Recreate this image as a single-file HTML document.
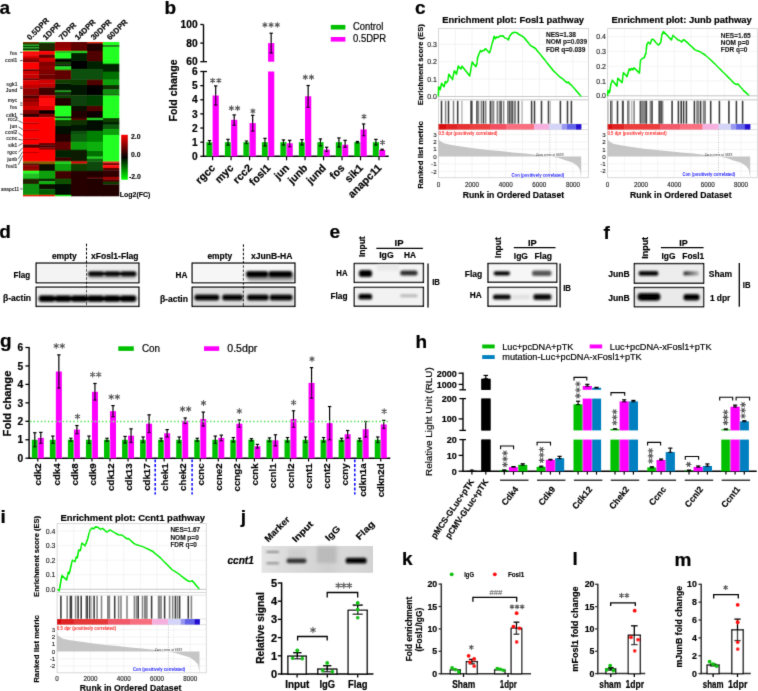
<!DOCTYPE html>
<html><head><meta charset="utf-8"><style>
html,body{margin:0;padding:0;background:#fff;}
svg{display:block;}
#w{width:758px;height:691px;will-change:transform;}
text{font-family:"Liberation Sans",sans-serif;}
</style></head><body><div id="w">
<svg width="758" height="691" viewBox="0 0 758 691">
<defs>
<filter id="bl" x="-20%" y="-50%" width="140%" height="200%"><feGaussianBlur stdDeviation="0.9"/></filter>
<filter id="bl2" x="-20%" y="-50%" width="140%" height="200%"><feGaussianBlur stdDeviation="1.4"/></filter>
<linearGradient id="cbar" x1="0" y1="0" x2="0" y2="1">
<stop offset="0" stop-color="#ff0000"/><stop offset="0.5" stop-color="#000000"/><stop offset="1" stop-color="#00ff00"/>
</linearGradient>
</defs>
<filter id="soft" filterUnits="userSpaceOnUse" x="0" y="0" width="758" height="691"><feConvolveMatrix order="3" kernelMatrix="0.01134 0.08382 0.01134 0.08382 0.61935 0.08382 0.01134 0.08382 0.01134" divisor="1" edgeMode="none"/></filter>
<rect x="0" y="0" width="758" height="691" fill="#fff"/>
<g filter="url(#soft)">
<text x="-0.5" y="13.8" font-size="19" font-weight="bold" text-anchor="start" fill="#000" stroke="#000" stroke-width="0.22" >a</text>
<text x="164.5" y="14" font-size="19" font-weight="bold" text-anchor="start" fill="#000" stroke="#000" stroke-width="0.22" >b</text>
<text x="415.1" y="14.1" font-size="19" font-weight="bold" text-anchor="start" fill="#000" stroke="#000" stroke-width="0.22" >c</text>
<text x="-0.8" y="237.8" font-size="19" font-weight="bold" text-anchor="start" fill="#000" stroke="#000" stroke-width="0.22" >d</text>
<text x="329.5" y="238.2" font-size="19" font-weight="bold" text-anchor="start" fill="#000" stroke="#000" stroke-width="0.22" >e</text>
<text x="603.5" y="238.7" font-size="19" font-weight="bold" text-anchor="start" fill="#000" stroke="#000" stroke-width="0.22" >f</text>
<text x="0" y="347.2" font-size="19" font-weight="bold" text-anchor="start" fill="#000" stroke="#000" stroke-width="0.22" >g</text>
<text x="415.5" y="347.9" font-size="19" font-weight="bold" text-anchor="start" fill="#000" stroke="#000" stroke-width="0.22" >h</text>
<text x="0.4" y="523.2" font-size="19" font-weight="bold" text-anchor="start" fill="#000" stroke="#000" stroke-width="0.22" >i</text>
<text x="240.7" y="522.8" font-size="19" font-weight="bold" text-anchor="start" fill="#000" stroke="#000" stroke-width="0.22" >j</text>
<text x="402" y="564.5" font-size="19" font-weight="bold" text-anchor="start" fill="#000" stroke="#000" stroke-width="0.22" >k</text>
<text x="572.5" y="564.6" font-size="19" font-weight="bold" text-anchor="start" fill="#000" stroke="#000" stroke-width="0.22" >l</text>
<text x="674.5" y="565.8" font-size="19" font-weight="bold" text-anchor="start" fill="#000" stroke="#000" stroke-width="0.22" >m</text>
<rect x="23" y="42" width="16.3" height="1.3" fill="#8a3000" />
<rect x="23" y="43" width="16.3" height="1.9" fill="#1a3a00" />
<rect x="23" y="44.6" width="16.3" height="1.7" fill="#20a020" />
<rect x="23" y="46" width="16.3" height="1.6" fill="#103000" />
<rect x="23" y="47.3" width="16.3" height="1.6" fill="#20b020" />
<rect x="23" y="48.6" width="16.3" height="1.7" fill="#050500" />
<rect x="23" y="50" width="16.3" height="1.5" fill="#30c030" />
<rect x="23" y="51.2" width="16.3" height="4.3" fill="#ff1010" />
<rect x="23" y="55.2" width="16.3" height="2.9" fill="#e00000" />
<rect x="23" y="57.8" width="16.3" height="2.3" fill="#a00000" />
<rect x="23" y="59.8" width="16.3" height="2.9" fill="#800000" />
<rect x="23" y="62.4" width="16.3" height="7.2" fill="#ff0000" />
<rect x="23" y="69.3" width="16.3" height="2" fill="#600000" />
<rect x="23" y="71" width="16.3" height="3.6" fill="#d00000" />
<rect x="23" y="74.3" width="16.3" height="4.3" fill="#c80000" />
<rect x="23" y="78.3" width="16.3" height="2.2" fill="#700000" />
<rect x="23" y="80.2" width="16.3" height="5" fill="#e00000" />
<rect x="23" y="84.9" width="16.3" height="3.6" fill="#c00000" />
<rect x="23" y="88.2" width="16.3" height="7.5" fill="#900000" />
<rect x="23" y="95.4" width="16.3" height="2.9" fill="#500000" />
<rect x="23" y="98" width="16.3" height="4.3" fill="#900000" />
<rect x="23" y="102" width="16.3" height="4.3" fill="#b00000" />
<rect x="23" y="106" width="16.3" height="4.3" fill="#d00000" />
<rect x="23" y="110" width="16.3" height="4.2" fill="#800000" />
<rect x="23" y="113.9" width="16.3" height="3.6" fill="#300000" />
<rect x="23" y="117.2" width="16.3" height="5.6" fill="#ff0000" />
<rect x="23" y="122.5" width="16.3" height="1.8" fill="#c00000" />
<rect x="23" y="124" width="16.3" height="5.8" fill="#ff0000" />
<rect x="23" y="129.5" width="16.3" height="1.8" fill="#c00000" />
<rect x="23" y="131" width="16.3" height="7.8" fill="#ff0000" />
<rect x="23" y="138.5" width="16.3" height="1.8" fill="#c00000" />
<rect x="23" y="140" width="16.3" height="4.7" fill="#ff0000" />
<rect x="23" y="144.4" width="16.3" height="3.6" fill="#500000" />
<rect x="23" y="147.7" width="16.3" height="4.6" fill="#ff0000" />
<rect x="23" y="152" width="16.3" height="1.3" fill="#c00000" />
<rect x="23" y="153" width="16.3" height="8.8" fill="#ff0000" />
<rect x="23" y="161.5" width="16.3" height="2.3" fill="#806000" />
<rect x="23" y="163.5" width="16.3" height="2.3" fill="#600000" />
<rect x="23" y="165.5" width="16.3" height="5.6" fill="#900000" />
<rect x="23" y="170.8" width="16.3" height="2.9" fill="#20ff20" />
<rect x="23" y="173.4" width="16.3" height="5.6" fill="#20c020" />
<rect x="23" y="178.7" width="16.3" height="5.6" fill="#202000" />
<rect x="23" y="184" width="16.3" height="11.3" fill="#109010" />
<rect x="23" y="195" width="16.3" height="1.3" fill="#e00000" />
<rect x="39" y="42" width="16.3" height="1.3" fill="#30a030" />
<rect x="39" y="43" width="16.3" height="7.3" fill="#1a2a00" />
<rect x="39" y="50" width="16.3" height="1.5" fill="#100800" />
<rect x="39" y="51.2" width="16.3" height="3.6" fill="#ff0000" />
<rect x="39" y="54.5" width="16.3" height="3.6" fill="#600000" />
<rect x="39" y="57.8" width="16.3" height="4.3" fill="#d00000" />
<rect x="39" y="61.8" width="16.3" height="4.2" fill="#800000" />
<rect x="39" y="65.7" width="16.3" height="4.3" fill="#900000" />
<rect x="39" y="69.7" width="16.3" height="4.9" fill="#800000" />
<rect x="39" y="74.3" width="16.3" height="5.6" fill="#700000" />
<rect x="39" y="79.6" width="16.3" height="4.2" fill="#d00000" />
<rect x="39" y="83.5" width="16.3" height="4.3" fill="#c00000" />
<rect x="39" y="87.5" width="16.3" height="8.2" fill="#400000" />
<rect x="39" y="95.4" width="16.3" height="2.9" fill="#e00000" />
<rect x="39" y="98" width="16.3" height="8.3" fill="#ff1010" />
<rect x="39" y="106" width="16.3" height="4.3" fill="#e00000" />
<rect x="39" y="110" width="16.3" height="4.2" fill="#100000" />
<rect x="39" y="113.9" width="16.3" height="3.6" fill="#800000" />
<rect x="39" y="117.2" width="16.3" height="26.1" fill="#ff0000" />
<rect x="39" y="143" width="16.3" height="2.8" fill="#700000" />
<rect x="39" y="145.5" width="16.3" height="2.3" fill="#400000" />
<rect x="39" y="147.5" width="16.3" height="2.5" fill="#900000" />
<rect x="39" y="149.7" width="16.3" height="12.1" fill="#ff0000" />
<rect x="39" y="161.5" width="16.3" height="2.8" fill="#806000" />
<rect x="39" y="164" width="16.3" height="7.1" fill="#100800" />
<rect x="39" y="170.8" width="16.3" height="8.2" fill="#10a010" />
<rect x="39" y="178.7" width="16.3" height="2.9" fill="#102000" />
<rect x="39" y="181.3" width="16.3" height="3" fill="#10b010" />
<rect x="39" y="184" width="16.3" height="5.5" fill="#100800" />
<rect x="39" y="189.2" width="16.3" height="6.1" fill="#006000" />
<rect x="39" y="195" width="16.3" height="1.3" fill="#e00000" />
<rect x="55" y="42" width="16.3" height="6.3" fill="#900000" />
<rect x="55" y="48" width="16.3" height="3.3" fill="#a00000" />
<rect x="55" y="51" width="16.3" height="2.3" fill="#20c020" />
<rect x="55" y="53" width="16.3" height="5.8" fill="#20ff20" />
<rect x="55" y="58.5" width="16.3" height="3.6" fill="#050500" />
<rect x="55" y="61.8" width="16.3" height="2.9" fill="#104000" />
<rect x="55" y="64.4" width="16.3" height="2.3" fill="#050500" />
<rect x="55" y="66.4" width="16.3" height="3.6" fill="#20e020" />
<rect x="55" y="69.7" width="16.3" height="10.2" fill="#600000" />
<rect x="55" y="79.6" width="16.3" height="4.2" fill="#104000" />
<rect x="55" y="83.5" width="16.3" height="7.3" fill="#051500" />
<rect x="55" y="90.5" width="16.3" height="1.7" fill="#20a020" />
<rect x="55" y="91.9" width="16.3" height="2.9" fill="#0a3000" />
<rect x="55" y="94.5" width="16.3" height="1.2" fill="#050500" />
<rect x="55" y="95.4" width="16.3" height="2.9" fill="#104000" />
<rect x="55" y="98" width="16.3" height="8.3" fill="#200000" />
<rect x="55" y="106" width="16.3" height="10.8" fill="#20ff20" />
<rect x="55" y="116.5" width="16.3" height="1.8" fill="#050500" />
<rect x="55" y="118" width="16.3" height="2.3" fill="#20d020" />
<rect x="55" y="120" width="16.3" height="6.3" fill="#104000" />
<rect x="55" y="126" width="16.3" height="8.3" fill="#051000" />
<rect x="55" y="134" width="16.3" height="8" fill="#200500" />
<rect x="55" y="141.7" width="16.3" height="8.3" fill="#600000" />
<rect x="55" y="149.7" width="16.3" height="8.2" fill="#052000" />
<rect x="55" y="157.6" width="16.3" height="4.2" fill="#400000" />
<rect x="55" y="161.5" width="16.3" height="2.8" fill="#20d020" />
<rect x="55" y="164" width="16.3" height="7.1" fill="#10a010" />
<rect x="55" y="170.8" width="16.3" height="8.2" fill="#400000" />
<rect x="55" y="178.7" width="16.3" height="5.6" fill="#105000" />
<rect x="55" y="184" width="16.3" height="11.3" fill="#050800" />
<rect x="55" y="195" width="16.3" height="1.3" fill="#20e020" />
<rect x="71" y="42" width="16.3" height="9.3" fill="#600000" />
<rect x="71" y="51" width="16.3" height="2.3" fill="#20c020" />
<rect x="71" y="53" width="16.3" height="8.3" fill="#052000" />
<rect x="71" y="61" width="16.3" height="8.3" fill="#050500" />
<rect x="71" y="69" width="16.3" height="10.9" fill="#105010" />
<rect x="71" y="79.6" width="16.3" height="5.7" fill="#0a3a00" />
<rect x="71" y="85" width="16.3" height="10.7" fill="#051500" />
<rect x="71" y="95.4" width="16.3" height="10.9" fill="#0a400a" />
<rect x="71" y="106" width="16.3" height="5.3" fill="#0a0a00" />
<rect x="71" y="111" width="16.3" height="7.3" fill="#200000" />
<rect x="71" y="118" width="16.3" height="2.3" fill="#500000" />
<rect x="71" y="120" width="16.3" height="5.3" fill="#0a3000" />
<rect x="71" y="125" width="16.3" height="6.3" fill="#051500" />
<rect x="71" y="131" width="16.3" height="3.3" fill="#0a500a" />
<rect x="71" y="134" width="16.3" height="8" fill="#0a600a" />
<rect x="71" y="141.7" width="16.3" height="8.3" fill="#10a010" />
<rect x="71" y="149.7" width="16.3" height="12.1" fill="#0a1a00" />
<rect x="71" y="161.5" width="16.3" height="2.3" fill="#e00000" />
<rect x="71" y="163.5" width="16.3" height="7.6" fill="#104000" />
<rect x="71" y="170.8" width="16.3" height="24.5" fill="#250000" />
<rect x="71" y="195" width="16.3" height="1.3" fill="#200000" />
<rect x="87" y="42" width="16.3" height="1.6" fill="#e02000" />
<rect x="87" y="43.3" width="16.3" height="8" fill="#200000" />
<rect x="87" y="51" width="16.3" height="10.3" fill="#500000" />
<rect x="87" y="61" width="16.3" height="8.3" fill="#052000" />
<rect x="87" y="69" width="16.3" height="10.9" fill="#0a500a" />
<rect x="87" y="79.6" width="16.3" height="5.7" fill="#500000" />
<rect x="87" y="85" width="16.3" height="10.7" fill="#050500" />
<rect x="87" y="95.4" width="16.3" height="10.9" fill="#004000" />
<rect x="87" y="106" width="16.3" height="5.3" fill="#500000" />
<rect x="87" y="111" width="16.3" height="7.3" fill="#100500" />
<rect x="87" y="118" width="16.3" height="2.3" fill="#20c020" />
<rect x="87" y="120" width="16.3" height="11.3" fill="#051000" />
<rect x="87" y="131" width="16.3" height="11" fill="#008000" />
<rect x="87" y="141.7" width="16.3" height="9.6" fill="#10b010" />
<rect x="87" y="151" width="16.3" height="5.9" fill="#007000" />
<rect x="87" y="156.6" width="16.3" height="2.3" fill="#20d020" />
<rect x="87" y="158.6" width="16.3" height="3.2" fill="#0a6a0a" />
<rect x="87" y="161.5" width="16.3" height="9.6" fill="#0a4a0a" />
<rect x="87" y="170.8" width="16.3" height="6.5" fill="#200000" />
<rect x="87" y="177" width="16.3" height="1.8" fill="#500000" />
<rect x="87" y="178.5" width="16.3" height="16.8" fill="#200000" />
<rect x="87" y="195" width="16.3" height="1.3" fill="#200000" />
<rect x="103" y="42" width="16.3" height="3.6" fill="#20ff20" />
<rect x="103" y="45.3" width="16.3" height="1.6" fill="#103000" />
<rect x="103" y="46.6" width="16.3" height="17.4" fill="#20ff20" />
<rect x="103" y="63.7" width="16.3" height="8.3" fill="#052000" />
<rect x="103" y="71.7" width="16.3" height="8.2" fill="#007000" />
<rect x="103" y="79.6" width="16.3" height="5.7" fill="#10a010" />
<rect x="103" y="85" width="16.3" height="4.8" fill="#0a3000" />
<rect x="103" y="89.5" width="16.3" height="5.3" fill="#109010" />
<rect x="103" y="94.5" width="16.3" height="1.2" fill="#052000" />
<rect x="103" y="95.4" width="16.3" height="22.9" fill="#20ff20" />
<rect x="103" y="118" width="16.3" height="4.3" fill="#0a4000" />
<rect x="103" y="122" width="16.3" height="2.9" fill="#052000" />
<rect x="103" y="124.6" width="16.3" height="4.7" fill="#0a5a0a" />
<rect x="103" y="129" width="16.3" height="6.3" fill="#10a010" />
<rect x="103" y="135" width="16.3" height="26.8" fill="#20ff20" />
<rect x="103" y="161.5" width="16.3" height="2" fill="#e02020" />
<rect x="103" y="163.2" width="16.3" height="2.3" fill="#700000" />
<rect x="103" y="165.2" width="16.3" height="3" fill="#ff1010" />
<rect x="103" y="167.9" width="16.3" height="2.9" fill="#500000" />
<rect x="103" y="170.5" width="16.3" height="6.8" fill="#300000" />
<rect x="103" y="177" width="16.3" height="2.9" fill="#a00000" />
<rect x="103" y="179.6" width="16.3" height="2.4" fill="#500000" />
<rect x="103" y="181.7" width="16.3" height="2.9" fill="#0a3a00" />
<rect x="103" y="184.3" width="16.3" height="11" fill="#200000" />
<rect x="103" y="195" width="16.3" height="1.3" fill="#200000" />
<text x="30" y="40.6" font-size="7.9" font-weight="bold" text-anchor="start" fill="#000" stroke="#000" stroke-width="0.16" transform="rotate(-45 30 40.6)" >0.5DPR</text>
<text x="46" y="40.6" font-size="7.9" font-weight="bold" text-anchor="start" fill="#000" stroke="#000" stroke-width="0.16" transform="rotate(-45 46 40.6)" >1DPR</text>
<text x="62" y="40.6" font-size="7.9" font-weight="bold" text-anchor="start" fill="#000" stroke="#000" stroke-width="0.16" transform="rotate(-45 62 40.6)" >7DPR</text>
<text x="78" y="40.6" font-size="7.9" font-weight="bold" text-anchor="start" fill="#000" stroke="#000" stroke-width="0.16" transform="rotate(-45 78 40.6)" >14DPR</text>
<text x="94" y="40.6" font-size="7.9" font-weight="bold" text-anchor="start" fill="#000" stroke="#000" stroke-width="0.16" transform="rotate(-45 94 40.6)" >30DPR</text>
<text x="110" y="40.6" font-size="7.9" font-weight="bold" text-anchor="start" fill="#000" stroke="#000" stroke-width="0.16" transform="rotate(-45 110 40.6)" >60DPR</text>
<rect x="121.2" y="134.8" width="6.6" height="44.9" fill="url(#cbar)" />
<text x="131" y="138.7" font-size="6.8" font-weight="bold" text-anchor="start" fill="#000" stroke="#000" stroke-width="0.14" >2.0</text>
<text x="131" y="157.2" font-size="6.8" font-weight="bold" text-anchor="start" fill="#000" stroke="#000" stroke-width="0.14" >0.0</text>
<text x="129" y="179.2" font-size="6.8" font-weight="bold" text-anchor="start" fill="#000" stroke="#000" stroke-width="0.14" >-2.0</text>
<text x="119.8" y="196.6" font-size="7.2" font-weight="bold" text-anchor="start" fill="#000" stroke="#000" stroke-width="0.14" textLength="30.6" lengthAdjust="spacingAndGlyphs" >Log2(FC)</text>
<text x="17.3" y="54.6" font-size="4.8" font-weight="bold" text-anchor="end" fill="#111" >fos</text>
<text x="17.3" y="62.1" font-size="4.8" font-weight="bold" text-anchor="end" fill="#111" >ccnl1</text>
<text x="17.3" y="85.8" font-size="4.8" font-weight="bold" text-anchor="end" fill="#111" >sgk1</text>
<text x="17.3" y="92.3" font-size="4.8" font-weight="bold" text-anchor="end" fill="#111" >Jund</text>
<text x="17.3" y="102.3" font-size="4.8" font-weight="bold" text-anchor="end" fill="#111" >myc</text>
<text x="17.3" y="108.6" font-size="4.8" font-weight="bold" text-anchor="end" fill="#111" >fos</text>
<text x="17" y="116.7" font-size="4.8" font-weight="bold" text-anchor="end" fill="#111" >cdk1</text>
<text x="17.6" y="121.3" font-size="4.8" font-weight="bold" text-anchor="end" fill="#111" >rcc2</text>
<text x="17.3" y="127.8" font-size="4.8" font-weight="bold" text-anchor="end" fill="#111" >jun</text>
<text x="17.3" y="134.3" font-size="4.8" font-weight="bold" text-anchor="end" fill="#111" >ccnl2</text>
<text x="17.3" y="140.4" font-size="4.8" font-weight="bold" text-anchor="end" fill="#111" >ccnc</text>
<text x="17.3" y="147.3" font-size="4.8" font-weight="bold" text-anchor="end" fill="#111" >sik1</text>
<text x="17.3" y="153.8" font-size="4.8" font-weight="bold" text-anchor="end" fill="#111" >rgcc</text>
<text x="17.3" y="160.7" font-size="4.8" font-weight="bold" text-anchor="end" fill="#111" >junb</text>
<text x="17.3" y="167.7" font-size="4.8" font-weight="bold" text-anchor="end" fill="#111" >fosl1</text>
<text x="19.2" y="190.9" font-size="4.6" font-weight="bold" text-anchor="end" fill="#111" textLength="18.3" lengthAdjust="spacingAndGlyphs" >anapc11</text>
<line x1="20.2" y1="52.4" x2="22.6" y2="52.4" stroke="#111" stroke-width="0.75" />
<line x1="20.2" y1="60.6" x2="22.6" y2="60.6" stroke="#111" stroke-width="0.75" />
<line x1="20.2" y1="86.9" x2="22.6" y2="86.9" stroke="#111" stroke-width="0.75" />
<line x1="20.2" y1="88.4" x2="22.6" y2="88.4" stroke="#111" stroke-width="0.75" />
<line x1="20.2" y1="103" x2="22.6" y2="103" stroke="#111" stroke-width="0.75" />
<line x1="20.2" y1="105.2" x2="22.6" y2="105.2" stroke="#111" stroke-width="0.75" />
<line x1="20.2" y1="114.2" x2="22.6" y2="114.2" stroke="#111" stroke-width="0.75" />
<line x1="20.1" y1="188.9" x2="22.7" y2="188.9" stroke="#222" stroke-width="0.7" />
<line x1="18.4" y1="120.6" x2="22.8" y2="123" stroke="#222" stroke-width="0.7" />
<line x1="18.4" y1="126.8" x2="22.8" y2="129.5" stroke="#222" stroke-width="0.7" />
<line x1="18.4" y1="133" x2="22.8" y2="136" stroke="#222" stroke-width="0.7" />
<line x1="18.4" y1="139.3" x2="22.8" y2="140.2" stroke="#222" stroke-width="0.7" />
<line x1="18.4" y1="145.8" x2="22.8" y2="143.2" stroke="#222" stroke-width="0.7" />
<line x1="18.4" y1="152.3" x2="22.8" y2="147.8" stroke="#222" stroke-width="0.7" />
<line x1="18.4" y1="158.8" x2="22.8" y2="151.7" stroke="#222" stroke-width="0.7" />
<line x1="18.4" y1="164.7" x2="22.8" y2="155.6" stroke="#222" stroke-width="0.7" />
<line x1="203.5" y1="24.5" x2="203.5" y2="61.7" stroke="#000" stroke-width="1.4" />
<line x1="203.5" y1="71.5" x2="203.5" y2="157" stroke="#000" stroke-width="1.4" />
<line x1="200.3" y1="24.5" x2="203.5" y2="24.5" stroke="#000" stroke-width="1.3" />
<line x1="200.3" y1="43.1" x2="203.5" y2="43.1" stroke="#000" stroke-width="1.3" />
<line x1="200.3" y1="61.7" x2="207" y2="61.7" stroke="#000" stroke-width="1.3" />
<line x1="200.3" y1="71.5" x2="207" y2="71.5" stroke="#000" stroke-width="1.3" />
<line x1="200.3" y1="156.3" x2="203.5" y2="156.3" stroke="#000" stroke-width="1.3" />
<line x1="200.3" y1="142.17" x2="203.5" y2="142.17" stroke="#000" stroke-width="1.3" />
<line x1="200.3" y1="128.04" x2="203.5" y2="128.04" stroke="#000" stroke-width="1.3" />
<line x1="200.3" y1="113.91" x2="203.5" y2="113.91" stroke="#000" stroke-width="1.3" />
<line x1="200.3" y1="99.78" x2="203.5" y2="99.78" stroke="#000" stroke-width="1.3" />
<line x1="200.3" y1="85.65" x2="203.5" y2="85.65" stroke="#000" stroke-width="1.3" />
<text x="197.6" y="28.2" font-size="10.2" font-weight="bold" text-anchor="end" fill="#000" stroke="#000" stroke-width="0.2" >100</text>
<text x="197.6" y="46.9" font-size="10.2" font-weight="bold" text-anchor="end" fill="#000" stroke="#000" stroke-width="0.2" >80</text>
<text x="197.6" y="65.4" font-size="10.2" font-weight="bold" text-anchor="end" fill="#000" stroke="#000" stroke-width="0.2" >60</text>
<text x="197.6" y="160" font-size="10.2" font-weight="bold" text-anchor="end" fill="#000" stroke="#000" stroke-width="0.2" >0</text>
<text x="197.6" y="145.87" font-size="10.2" font-weight="bold" text-anchor="end" fill="#000" stroke="#000" stroke-width="0.2" >1</text>
<text x="197.6" y="131.74" font-size="10.2" font-weight="bold" text-anchor="end" fill="#000" stroke="#000" stroke-width="0.2" >2</text>
<text x="197.6" y="117.61" font-size="10.2" font-weight="bold" text-anchor="end" fill="#000" stroke="#000" stroke-width="0.2" >3</text>
<text x="197.6" y="103.48" font-size="10.2" font-weight="bold" text-anchor="end" fill="#000" stroke="#000" stroke-width="0.2" >4</text>
<text x="197.6" y="89.35" font-size="10.2" font-weight="bold" text-anchor="end" fill="#000" stroke="#000" stroke-width="0.2" >5</text>
<text x="197.6" y="75.22" font-size="10.2" font-weight="bold" text-anchor="end" fill="#000" stroke="#000" stroke-width="0.2" >6</text>
<line x1="202.8" y1="156.3" x2="388.7" y2="156.3" stroke="#000" stroke-width="1.4" />
<rect x="206.4" y="142.17" width="6.2" height="14.13" fill="#00c000" />
<rect x="212.6" y="95.54" width="6.2" height="60.76" fill="#ff00ff" />
<line x1="209.5" y1="140.62" x2="209.5" y2="144.29" stroke="#000" stroke-width="1.2" />
<line x1="207.8" y1="140.62" x2="211.2" y2="140.62" stroke="#000" stroke-width="1.2" />
<line x1="207.8" y1="144.29" x2="211.2" y2="144.29" stroke="#000" stroke-width="1.2" />
<line x1="215.7" y1="85.93" x2="215.7" y2="105.01" stroke="#000" stroke-width="1.2" />
<line x1="214" y1="85.93" x2="217.4" y2="85.93" stroke="#000" stroke-width="1.2" />
<line x1="214" y1="105.01" x2="217.4" y2="105.01" stroke="#000" stroke-width="1.2" />
<line x1="212.6" y1="156.3" x2="212.6" y2="160.3" stroke="#000" stroke-width="1.2" />
<text x="215.8" y="168.6" font-size="10.7" font-weight="bold" text-anchor="end" fill="#000" stroke="#000" stroke-width="0.21" transform="rotate(-45 215.8 168.6)" >rgcc</text>
<rect x="224.89" y="142.17" width="6.2" height="14.13" fill="#00c000" />
<rect x="231.09" y="119.84" width="6.2" height="36.46" fill="#ff00ff" />
<line x1="227.99" y1="139.34" x2="227.99" y2="145.28" stroke="#000" stroke-width="1.2" />
<line x1="226.29" y1="139.34" x2="229.69" y2="139.34" stroke="#000" stroke-width="1.2" />
<line x1="226.29" y1="145.28" x2="229.69" y2="145.28" stroke="#000" stroke-width="1.2" />
<line x1="234.19" y1="114.9" x2="234.19" y2="125.36" stroke="#000" stroke-width="1.2" />
<line x1="232.49" y1="114.9" x2="235.89" y2="114.9" stroke="#000" stroke-width="1.2" />
<line x1="232.49" y1="125.36" x2="235.89" y2="125.36" stroke="#000" stroke-width="1.2" />
<line x1="231.09" y1="156.3" x2="231.09" y2="160.3" stroke="#000" stroke-width="1.2" />
<text x="234.29" y="168.6" font-size="10.7" font-weight="bold" text-anchor="end" fill="#000" stroke="#000" stroke-width="0.21" transform="rotate(-45 234.29 168.6)" >myc</text>
<rect x="243.38" y="142.17" width="6.2" height="14.13" fill="#00c000" />
<rect x="249.58" y="123.09" width="6.2" height="33.21" fill="#ff00ff" />
<line x1="246.48" y1="141.04" x2="246.48" y2="143.58" stroke="#000" stroke-width="1.2" />
<line x1="244.78" y1="141.04" x2="248.18" y2="141.04" stroke="#000" stroke-width="1.2" />
<line x1="244.78" y1="143.58" x2="248.18" y2="143.58" stroke="#000" stroke-width="1.2" />
<line x1="252.68" y1="115.32" x2="252.68" y2="131.15" stroke="#000" stroke-width="1.2" />
<line x1="250.98" y1="115.32" x2="254.38" y2="115.32" stroke="#000" stroke-width="1.2" />
<line x1="250.98" y1="131.15" x2="254.38" y2="131.15" stroke="#000" stroke-width="1.2" />
<line x1="249.58" y1="156.3" x2="249.58" y2="160.3" stroke="#000" stroke-width="1.2" />
<text x="252.78" y="168.6" font-size="10.7" font-weight="bold" text-anchor="end" fill="#000" stroke="#000" stroke-width="0.21" transform="rotate(-45 252.78 168.6)" >rcc2</text>
<rect x="261.87" y="142.17" width="6.2" height="14.13" fill="#00c000" />
<rect x="268.07" y="71.5" width="6.2" height="84.8" fill="#ff00ff" />
<rect x="268.07" y="43.1" width="6.2" height="18.6" fill="#ff00ff" />
<line x1="264.97" y1="138.35" x2="264.97" y2="145.99" stroke="#000" stroke-width="1.2" />
<line x1="263.27" y1="138.35" x2="266.67" y2="138.35" stroke="#000" stroke-width="1.2" />
<line x1="263.27" y1="145.99" x2="266.67" y2="145.99" stroke="#000" stroke-width="1.2" />
<line x1="271.17" y1="33.2" x2="271.17" y2="53" stroke="#000" stroke-width="1.2" />
<line x1="269.47" y1="33.2" x2="272.87" y2="33.2" stroke="#000" stroke-width="1.2" />
<line x1="269.47" y1="53" x2="272.87" y2="53" stroke="#000" stroke-width="1.2" />
<line x1="268.07" y1="156.3" x2="268.07" y2="160.3" stroke="#000" stroke-width="1.2" />
<text x="271.27" y="168.6" font-size="10.7" font-weight="bold" text-anchor="end" fill="#000" stroke="#000" stroke-width="0.21" transform="rotate(-45 271.27 168.6)" >fosl1</text>
<rect x="280.36" y="142.17" width="6.2" height="14.13" fill="#00c000" />
<rect x="286.56" y="143.3" width="6.2" height="13" fill="#ff00ff" />
<line x1="283.46" y1="139.91" x2="283.46" y2="145" stroke="#000" stroke-width="1.2" />
<line x1="281.76" y1="139.91" x2="285.16" y2="139.91" stroke="#000" stroke-width="1.2" />
<line x1="281.76" y1="145" x2="285.16" y2="145" stroke="#000" stroke-width="1.2" />
<line x1="289.66" y1="140.33" x2="289.66" y2="146.69" stroke="#000" stroke-width="1.2" />
<line x1="287.96" y1="140.33" x2="291.36" y2="140.33" stroke="#000" stroke-width="1.2" />
<line x1="287.96" y1="146.69" x2="291.36" y2="146.69" stroke="#000" stroke-width="1.2" />
<line x1="286.56" y1="156.3" x2="286.56" y2="160.3" stroke="#000" stroke-width="1.2" />
<text x="289.76" y="168.6" font-size="10.7" font-weight="bold" text-anchor="end" fill="#000" stroke="#000" stroke-width="0.21" transform="rotate(-45 289.76 168.6)" >jun</text>
<rect x="298.85" y="142.17" width="6.2" height="14.13" fill="#00c000" />
<rect x="305.05" y="96.25" width="6.2" height="60.05" fill="#ff00ff" />
<line x1="301.95" y1="139.63" x2="301.95" y2="145" stroke="#000" stroke-width="1.2" />
<line x1="300.25" y1="139.63" x2="303.65" y2="139.63" stroke="#000" stroke-width="1.2" />
<line x1="300.25" y1="145" x2="303.65" y2="145" stroke="#000" stroke-width="1.2" />
<line x1="308.15" y1="85.51" x2="308.15" y2="107.41" stroke="#000" stroke-width="1.2" />
<line x1="306.45" y1="85.51" x2="309.85" y2="85.51" stroke="#000" stroke-width="1.2" />
<line x1="306.45" y1="107.41" x2="309.85" y2="107.41" stroke="#000" stroke-width="1.2" />
<line x1="305.05" y1="156.3" x2="305.05" y2="160.3" stroke="#000" stroke-width="1.2" />
<text x="308.25" y="168.6" font-size="10.7" font-weight="bold" text-anchor="end" fill="#000" stroke="#000" stroke-width="0.21" transform="rotate(-45 308.25 168.6)" >junb</text>
<rect x="317.34" y="142.17" width="6.2" height="14.13" fill="#00c000" />
<rect x="323.54" y="149.52" width="6.2" height="6.78" fill="#ff00ff" />
<line x1="320.44" y1="138.92" x2="320.44" y2="145.84" stroke="#000" stroke-width="1.2" />
<line x1="318.74" y1="138.92" x2="322.14" y2="138.92" stroke="#000" stroke-width="1.2" />
<line x1="318.74" y1="145.84" x2="322.14" y2="145.84" stroke="#000" stroke-width="1.2" />
<line x1="326.64" y1="147.26" x2="326.64" y2="151.5" stroke="#000" stroke-width="1.2" />
<line x1="324.94" y1="147.26" x2="328.34" y2="147.26" stroke="#000" stroke-width="1.2" />
<line x1="324.94" y1="151.5" x2="328.34" y2="151.5" stroke="#000" stroke-width="1.2" />
<line x1="323.54" y1="156.3" x2="323.54" y2="160.3" stroke="#000" stroke-width="1.2" />
<text x="326.74" y="168.6" font-size="10.7" font-weight="bold" text-anchor="end" fill="#000" stroke="#000" stroke-width="0.21" transform="rotate(-45 326.74 168.6)" >jund</text>
<rect x="335.83" y="142.17" width="6.2" height="14.13" fill="#00c000" />
<rect x="342.03" y="144.71" width="6.2" height="11.59" fill="#ff00ff" />
<line x1="338.93" y1="137.93" x2="338.93" y2="146.97" stroke="#000" stroke-width="1.2" />
<line x1="337.23" y1="137.93" x2="340.63" y2="137.93" stroke="#000" stroke-width="1.2" />
<line x1="337.23" y1="146.97" x2="340.63" y2="146.97" stroke="#000" stroke-width="1.2" />
<line x1="345.13" y1="140.33" x2="345.13" y2="147.26" stroke="#000" stroke-width="1.2" />
<line x1="343.43" y1="140.33" x2="346.83" y2="140.33" stroke="#000" stroke-width="1.2" />
<line x1="343.43" y1="147.26" x2="346.83" y2="147.26" stroke="#000" stroke-width="1.2" />
<line x1="342.03" y1="156.3" x2="342.03" y2="160.3" stroke="#000" stroke-width="1.2" />
<text x="345.23" y="168.6" font-size="10.7" font-weight="bold" text-anchor="end" fill="#000" stroke="#000" stroke-width="0.21" transform="rotate(-45 345.23 168.6)" >fos</text>
<rect x="354.32" y="142.17" width="6.2" height="14.13" fill="#00c000" />
<rect x="360.52" y="129.45" width="6.2" height="26.85" fill="#ff00ff" />
<line x1="357.42" y1="141.46" x2="357.42" y2="142.88" stroke="#000" stroke-width="1.2" />
<line x1="355.72" y1="141.46" x2="359.12" y2="141.46" stroke="#000" stroke-width="1.2" />
<line x1="355.72" y1="142.88" x2="359.12" y2="142.88" stroke="#000" stroke-width="1.2" />
<line x1="363.62" y1="123.94" x2="363.62" y2="135.67" stroke="#000" stroke-width="1.2" />
<line x1="361.92" y1="123.94" x2="365.32" y2="123.94" stroke="#000" stroke-width="1.2" />
<line x1="361.92" y1="135.67" x2="365.32" y2="135.67" stroke="#000" stroke-width="1.2" />
<line x1="360.52" y1="156.3" x2="360.52" y2="160.3" stroke="#000" stroke-width="1.2" />
<text x="363.72" y="168.6" font-size="10.7" font-weight="bold" text-anchor="end" fill="#000" stroke="#000" stroke-width="0.21" transform="rotate(-45 363.72 168.6)" >sik1</text>
<rect x="372.81" y="142.17" width="6.2" height="14.13" fill="#00c000" />
<rect x="379.01" y="149.94" width="6.2" height="6.36" fill="#ff00ff" />
<line x1="375.91" y1="139.34" x2="375.91" y2="145" stroke="#000" stroke-width="1.2" />
<line x1="374.21" y1="139.34" x2="377.61" y2="139.34" stroke="#000" stroke-width="1.2" />
<line x1="374.21" y1="145" x2="377.61" y2="145" stroke="#000" stroke-width="1.2" />
<line x1="382.11" y1="149.24" x2="382.11" y2="150.37" stroke="#000" stroke-width="1.2" />
<line x1="380.41" y1="149.24" x2="383.81" y2="149.24" stroke="#000" stroke-width="1.2" />
<line x1="380.41" y1="150.37" x2="383.81" y2="150.37" stroke="#000" stroke-width="1.2" />
<line x1="379.01" y1="156.3" x2="379.01" y2="160.3" stroke="#000" stroke-width="1.2" />
<text x="382.21" y="168.6" font-size="10.7" font-weight="bold" text-anchor="end" fill="#000" stroke="#000" stroke-width="0.21" transform="rotate(-45 382.21 168.6)" >anapc11</text>
<path d="M212.65 78.2L212.65 82.8M210.66 79.35L214.64 81.65M214.64 79.35L210.66 81.65" stroke="#5a5a5a" stroke-width="1.1" stroke-linecap="round" fill="none"/>
<path d="M218.85 78.2L218.85 82.8M216.86 79.35L220.84 81.65M220.84 79.35L216.86 81.65" stroke="#5a5a5a" stroke-width="1.1" stroke-linecap="round" fill="none"/>
<path d="M231.4 105.9L231.4 110.5M229.41 107.05L233.39 109.35M233.39 107.05L229.41 109.35" stroke="#5a5a5a" stroke-width="1.1" stroke-linecap="round" fill="none"/>
<path d="M237.6 105.9L237.6 110.5M235.61 107.05L239.59 109.35M239.59 107.05L235.61 109.35" stroke="#5a5a5a" stroke-width="1.1" stroke-linecap="round" fill="none"/>
<path d="M252.9 108.7L252.9 113.3M250.91 109.85L254.89 112.15M254.89 109.85L250.91 112.15" stroke="#5a5a5a" stroke-width="1.1" stroke-linecap="round" fill="none"/>
<path d="M264.9 22.6L264.9 27.2M262.91 23.75L266.89 26.05M266.89 23.75L262.91 26.05" stroke="#5a5a5a" stroke-width="1.1" stroke-linecap="round" fill="none"/>
<path d="M271.1 22.6L271.1 27.2M269.11 23.75L273.09 26.05M273.09 23.75L269.11 26.05" stroke="#5a5a5a" stroke-width="1.1" stroke-linecap="round" fill="none"/>
<path d="M277.3 22.6L277.3 27.2M275.31 23.75L279.29 26.05M279.29 23.75L275.31 26.05" stroke="#5a5a5a" stroke-width="1.1" stroke-linecap="round" fill="none"/>
<path d="M305.3 74.9L305.3 79.5M303.31 76.05L307.29 78.35M307.29 76.05L303.31 78.35" stroke="#5a5a5a" stroke-width="1.1" stroke-linecap="round" fill="none"/>
<path d="M311.5 74.9L311.5 79.5M309.51 76.05L313.49 78.35M313.49 76.05L309.51 78.35" stroke="#5a5a5a" stroke-width="1.1" stroke-linecap="round" fill="none"/>
<path d="M364 114.2L364 118.8M362.01 115.35L365.99 117.65M365.99 115.35L362.01 117.65" stroke="#5a5a5a" stroke-width="1.1" stroke-linecap="round" fill="none"/>
<path d="M382.5 140.1L382.5 144.7M380.51 141.25L384.49 143.55M384.49 141.25L380.51 143.55" stroke="#5a5a5a" stroke-width="1.1" stroke-linecap="round" fill="none"/>
<rect x="330.8" y="24.9" width="14.6" height="4.6" fill="#00c000" />
<rect x="330.8" y="37" width="14.6" height="4.6" fill="#ff00ff" />
<text x="353" y="30.1" font-size="10.2" font-weight="normal" text-anchor="start" fill="#000" stroke="#000" stroke-width="0.2" textLength="30.3" lengthAdjust="spacingAndGlyphs" >Control</text>
<text x="353" y="41.8" font-size="10.2" font-weight="normal" text-anchor="start" fill="#000" stroke="#000" stroke-width="0.2" textLength="33.2" lengthAdjust="spacingAndGlyphs" >0.5DPR</text>
<text x="176.8" y="90.5" font-size="10.5" font-weight="bold" text-anchor="middle" fill="#000" stroke="#000" stroke-width="0.21" transform="rotate(-90 176.8 90.5)" textLength="62" lengthAdjust="spacingAndGlyphs" >Fold change</text>
<line x1="455.3" y1="28.6" x2="455.3" y2="99.6" stroke="#efefef" stroke-width="0.7" />
<line x1="455.3" y1="129.6" x2="455.3" y2="177.7" stroke="#efefef" stroke-width="0.7" />
<line x1="472.1" y1="28.6" x2="472.1" y2="99.6" stroke="#efefef" stroke-width="0.7" />
<line x1="472.1" y1="129.6" x2="472.1" y2="177.7" stroke="#efefef" stroke-width="0.7" />
<line x1="488.9" y1="28.6" x2="488.9" y2="99.6" stroke="#efefef" stroke-width="0.7" />
<line x1="488.9" y1="129.6" x2="488.9" y2="177.7" stroke="#efefef" stroke-width="0.7" />
<line x1="505.7" y1="28.6" x2="505.7" y2="99.6" stroke="#efefef" stroke-width="0.7" />
<line x1="505.7" y1="129.6" x2="505.7" y2="177.7" stroke="#efefef" stroke-width="0.7" />
<line x1="522.5" y1="28.6" x2="522.5" y2="99.6" stroke="#efefef" stroke-width="0.7" />
<line x1="522.5" y1="129.6" x2="522.5" y2="177.7" stroke="#efefef" stroke-width="0.7" />
<line x1="539.3" y1="28.6" x2="539.3" y2="99.6" stroke="#efefef" stroke-width="0.7" />
<line x1="539.3" y1="129.6" x2="539.3" y2="177.7" stroke="#efefef" stroke-width="0.7" />
<line x1="556.1" y1="28.6" x2="556.1" y2="99.6" stroke="#efefef" stroke-width="0.7" />
<line x1="556.1" y1="129.6" x2="556.1" y2="177.7" stroke="#efefef" stroke-width="0.7" />
<line x1="572.9" y1="28.6" x2="572.9" y2="99.6" stroke="#efefef" stroke-width="0.7" />
<line x1="572.9" y1="129.6" x2="572.9" y2="177.7" stroke="#efefef" stroke-width="0.7" />
<line x1="438.5" y1="96.5" x2="588.5" y2="96.5" stroke="#efefef" stroke-width="0.7" />
<line x1="438.5" y1="79.1" x2="588.5" y2="79.1" stroke="#efefef" stroke-width="0.7" />
<line x1="438.5" y1="61.7" x2="588.5" y2="61.7" stroke="#efefef" stroke-width="0.7" />
<line x1="438.5" y1="44.3" x2="588.5" y2="44.3" stroke="#efefef" stroke-width="0.7" />
<line x1="438.5" y1="134.55" x2="588.5" y2="134.55" stroke="#efefef" stroke-width="0.7" />
<line x1="438.5" y1="141.9" x2="588.5" y2="141.9" stroke="#efefef" stroke-width="0.7" />
<line x1="438.5" y1="149.25" x2="588.5" y2="149.25" stroke="#efefef" stroke-width="0.7" />
<line x1="438.5" y1="163.95" x2="588.5" y2="163.95" stroke="#efefef" stroke-width="0.7" />
<line x1="438.5" y1="171.3" x2="588.5" y2="171.3" stroke="#efefef" stroke-width="0.7" />
<rect x="438.5" y="28.6" width="150" height="149.1" fill="none" stroke="#d4d4d4" stroke-width="0.9"/>
<line x1="438.5" y1="99.6" x2="588.5" y2="99.6" stroke="#d4d4d4" stroke-width="0.9" />
<line x1="438.5" y1="100.2" x2="588.5" y2="100.2" stroke="#d4d4d4" stroke-width="0.6" />
<line x1="438.5" y1="124" x2="588.5" y2="124" stroke="#d4d4d4" stroke-width="0.7" />
<line x1="438.5" y1="129.6" x2="588.5" y2="129.6" stroke="#d4d4d4" stroke-width="0.7" />
<line x1="438.5" y1="96.5" x2="588.5" y2="96.5" stroke="#c8c8c8" stroke-width="1" />
<polyline points="438.4,96.4 438.6,86.7 440.2,89.7 441.6,83.2 442.5,84.7 444.1,86.7 445.3,81.4 446.4,82.8 447.9,80.8 448.8,74.3 450,76 451.2,77.8 452.6,79.6 453.8,73.1 454.4,70.7 455.6,72.5 456.4,74.3 458.3,66 459.5,67.7 460.9,68.9 462.1,66.2 469.8,76 472.2,61.8 473.8,64.2 475.8,66.6 477,63.6 477.6,57.7 478.7,54.7 480.5,50.5 481.7,51.7 482.9,50.5 484.1,50.5 485.3,48.8 486.5,49.4 489.4,52.9 490.6,49.4 491.8,44.6 493,41 494.2,36.3 495.4,38.7 496.6,36.9 498.3,37.5 500.1,35.7 501.9,36.3 503.1,35.7 504.9,38.1 507.2,38.7 508.4,39.9 509.6,36.3 512,33.3 514.4,32.2 516.7,32.7 519.1,34.5 521.5,35.7 523.9,37.5 526,39.9 530.3,45.3 535.5,48.5 544,59 552.4,69.6 559.8,77 562.7,78.9 566.9,82.7 568.6,82.1 570,84.2 571.1,84.8 581.2,96.6" fill="none" stroke="#00f000" stroke-width="1.6" stroke-linejoin="round"/>
<line x1="441.5" y1="100.8" x2="441.5" y2="123.7" stroke="#404040" stroke-width="1.6" />
<line x1="445.6" y1="100.8" x2="445.6" y2="123.7" stroke="#888888" stroke-width="1.6" />
<line x1="448.5" y1="100.8" x2="448.5" y2="123.7" stroke="#404040" stroke-width="1.6" />
<line x1="453.5" y1="100.8" x2="453.5" y2="123.7" stroke="#888888" stroke-width="1.6" />
<line x1="457.7" y1="100.8" x2="457.7" y2="123.7" stroke="#404040" stroke-width="1.6" />
<line x1="461.9" y1="100.8" x2="461.9" y2="123.7" stroke="#c0c0c0" stroke-width="1.6" />
<line x1="471.1" y1="100.8" x2="471.1" y2="123.7" stroke="#404040" stroke-width="1.6" />
<line x1="471.8" y1="100.8" x2="471.8" y2="123.7" stroke="#404040" stroke-width="1.6" />
<line x1="477" y1="100.8" x2="477" y2="123.7" stroke="#404040" stroke-width="1.6" />
<line x1="478.5" y1="100.8" x2="478.5" y2="123.7" stroke="#888888" stroke-width="1.6" />
<line x1="481.4" y1="100.8" x2="481.4" y2="123.7" stroke="#888888" stroke-width="1.6" />
<line x1="483.5" y1="100.8" x2="483.5" y2="123.7" stroke="#404040" stroke-width="1.6" />
<line x1="485.7" y1="100.8" x2="485.7" y2="123.7" stroke="#888888" stroke-width="1.6" />
<line x1="490.4" y1="100.8" x2="490.4" y2="123.7" stroke="#404040" stroke-width="1.6" />
<line x1="492" y1="100.8" x2="492" y2="123.7" stroke="#888888" stroke-width="1.6" />
<line x1="493.6" y1="100.8" x2="493.6" y2="123.7" stroke="#888888" stroke-width="1.6" />
<line x1="497.3" y1="100.8" x2="497.3" y2="123.7" stroke="#888888" stroke-width="1.6" />
<line x1="499.4" y1="100.8" x2="499.4" y2="123.7" stroke="#888888" stroke-width="1.6" />
<line x1="501" y1="100.8" x2="501" y2="123.7" stroke="#404040" stroke-width="1.6" />
<line x1="503.6" y1="100.8" x2="503.6" y2="123.7" stroke="#888888" stroke-width="1.6" />
<line x1="507.8" y1="100.8" x2="507.8" y2="123.7" stroke="#888888" stroke-width="1.6" />
<line x1="509.4" y1="100.8" x2="509.4" y2="123.7" stroke="#404040" stroke-width="1.6" />
<line x1="510.5" y1="100.8" x2="510.5" y2="123.7" stroke="#888888" stroke-width="1.6" />
<line x1="512.1" y1="100.8" x2="512.1" y2="123.7" stroke="#404040" stroke-width="1.6" />
<line x1="514.2" y1="100.8" x2="514.2" y2="123.7" stroke="#888888" stroke-width="1.6" />
<line x1="515.3" y1="100.8" x2="515.3" y2="123.7" stroke="#888888" stroke-width="1.6" />
<line x1="518.4" y1="100.8" x2="518.4" y2="123.7" stroke="#404040" stroke-width="1.6" />
<line x1="522.1" y1="100.8" x2="522.1" y2="123.7" stroke="#c0c0c0" stroke-width="1.6" />
<line x1="531.6" y1="100.8" x2="531.6" y2="123.7" stroke="#404040" stroke-width="1.6" />
<line x1="534.5" y1="100.8" x2="534.5" y2="123.7" stroke="#404040" stroke-width="1.6" />
<line x1="541.5" y1="100.8" x2="541.5" y2="123.7" stroke="#404040" stroke-width="1.6" />
<line x1="548.5" y1="100.8" x2="548.5" y2="123.7" stroke="#404040" stroke-width="1.6" />
<line x1="550.1" y1="100.8" x2="550.1" y2="123.7" stroke="#c0c0c0" stroke-width="1.6" />
<line x1="560.4" y1="100.8" x2="560.4" y2="123.7" stroke="#404040" stroke-width="1.6" />
<line x1="567.5" y1="100.8" x2="567.5" y2="123.7" stroke="#404040" stroke-width="1.6" />
<line x1="571.4" y1="100.8" x2="571.4" y2="123.7" stroke="#404040" stroke-width="1.6" />
<rect x="438.5" y="124" width="7.7" height="5.6" fill="#d80808" />
<rect x="446" y="124" width="11.2" height="5.6" fill="#e02020" />
<rect x="457" y="124" width="13.2" height="5.6" fill="#e63030" />
<rect x="470" y="124" width="20.2" height="5.6" fill="#ec4040" />
<rect x="490" y="124" width="16.2" height="5.6" fill="#f25060" />
<rect x="506" y="124" width="28.2" height="5.6" fill="#f87080" />
<rect x="534" y="124" width="15.2" height="5.6" fill="#f6b0e0" />
<rect x="549" y="124" width="12.9" height="5.6" fill="#d4d4f8" />
<rect x="561.7" y="124" width="5.5" height="5.6" fill="#9898f0" />
<rect x="567" y="124" width="9.2" height="5.6" fill="#6464e8" />
<rect x="576" y="124" width="5.4" height="5.6" fill="#2008d0" />
<polygon points="438.3,156.6 438.3,136.53 439,139.69 440.1,140.94 443.9,143.37 450.1,144.84 462.7,146.82 475.2,148.51 487.7,149.98 500.3,151.01 512.8,152.48 525.3,153.44 537.9,154.91 550.4,156.6 557.9,157.85 565.5,160.28 573,162.77 578,166.38 580,170.12 581,176.44 581.2,178.65 581.2,156.6" fill="#c6c6c6" />
<line x1="549.8" y1="129.6" x2="549.8" y2="177.7" stroke="#999" stroke-width="0.6" stroke-dasharray="1,1.5"/>
<text x="549.8" y="155.6" font-size="4" font-weight="normal" text-anchor="middle" fill="#222" textLength="27.5" lengthAdjust="spacingAndGlyphs" >Zero cross at 6633</text>
<text x="438.5" y="135" font-size="5.3" font-weight="bold" text-anchor="start" fill="#ff2020" textLength="59" lengthAdjust="spacingAndGlyphs" >0.5 dpr (positively correlated)</text>
<text x="511.6" y="176.6" font-size="5.3" font-weight="bold" text-anchor="start" fill="#2020ff" textLength="52.6" lengthAdjust="spacingAndGlyphs" >Con (positively correlated)</text>
<text x="436.9" y="99" font-size="7" font-weight="normal" text-anchor="end" fill="#222" stroke="#222" stroke-width="0.14" >0.0</text>
<text x="436.9" y="81.6" font-size="7" font-weight="normal" text-anchor="end" fill="#222" stroke="#222" stroke-width="0.14" >0.1</text>
<text x="436.9" y="64.2" font-size="7" font-weight="normal" text-anchor="end" fill="#222" stroke="#222" stroke-width="0.14" >0.2</text>
<text x="436.9" y="46.8" font-size="7" font-weight="normal" text-anchor="end" fill="#222" stroke="#222" stroke-width="0.14" >0.3</text>
<text x="436.6" y="136.75" font-size="6.2" font-weight="normal" text-anchor="end" fill="#222" stroke="#222" stroke-width="0.12" >3</text>
<text x="436.6" y="144.1" font-size="6.2" font-weight="normal" text-anchor="end" fill="#222" stroke="#222" stroke-width="0.12" >2</text>
<text x="436.6" y="151.45" font-size="6.2" font-weight="normal" text-anchor="end" fill="#222" stroke="#222" stroke-width="0.12" >1</text>
<text x="436.6" y="158.8" font-size="6.2" font-weight="normal" text-anchor="end" fill="#222" stroke="#222" stroke-width="0.12" >0</text>
<text x="436.6" y="166.15" font-size="6.2" font-weight="normal" text-anchor="end" fill="#222" stroke="#222" stroke-width="0.12" >-1</text>
<text x="436.6" y="173.5" font-size="6.2" font-weight="normal" text-anchor="end" fill="#222" stroke="#222" stroke-width="0.12" >-2</text>
<text x="438.5" y="186.7" font-size="6.3" font-weight="normal" text-anchor="middle" fill="#222" stroke="#222" stroke-width="0.13" >0</text>
<text x="472.1" y="186.7" font-size="6.3" font-weight="normal" text-anchor="middle" fill="#222" stroke="#222" stroke-width="0.13" >2000</text>
<text x="505.7" y="186.7" font-size="6.3" font-weight="normal" text-anchor="middle" fill="#222" stroke="#222" stroke-width="0.13" >4000</text>
<text x="539.3" y="186.7" font-size="6.3" font-weight="normal" text-anchor="middle" fill="#222" stroke="#222" stroke-width="0.13" >6000</text>
<text x="572.9" y="186.7" font-size="6.3" font-weight="normal" text-anchor="middle" fill="#222" stroke="#222" stroke-width="0.13" >8000</text>
<text x="442.3" y="23" font-size="9.4" font-weight="bold" text-anchor="start" fill="#000" stroke="#000" stroke-width="0.19" textLength="141.8" lengthAdjust="spacingAndGlyphs" >Enrichment plot: Fosl1 pathway</text>
<text x="513.4" y="198" font-size="8.7" font-weight="bold" text-anchor="middle" fill="#000" stroke="#000" stroke-width="0.17" textLength="101.5" lengthAdjust="spacingAndGlyphs" >Runk in Ordered Dataset</text>
<text x="422.6" y="64.8" font-size="7.6" font-weight="bold" text-anchor="middle" fill="#000" stroke="#000" stroke-width="0.15" transform="rotate(-90 422.6 64.8)" textLength="81" lengthAdjust="spacingAndGlyphs" >Enrichment score (ES)</text>
<text x="422.8" y="155" font-size="7.9" font-weight="bold" text-anchor="middle" fill="#000" stroke="#000" stroke-width="0.16" transform="rotate(-90 422.8 155)" textLength="67.7" lengthAdjust="spacingAndGlyphs" >Ranked list metric</text>
<text x="546.1" y="36.9" font-size="6.5" font-weight="bold" text-anchor="start" fill="#111" stroke="#111" stroke-width="0.13" >NES=1.38</text>
<text x="546.1" y="44.2" font-size="6.5" font-weight="bold" text-anchor="start" fill="#111" stroke="#111" stroke-width="0.13" >NOM p=0.039</text>
<text x="546.1" y="51.5" font-size="6.5" font-weight="bold" text-anchor="start" fill="#111" stroke="#111" stroke-width="0.13" >FDR q=0.039</text>
<line x1="624.28" y1="28.6" x2="624.28" y2="99.6" stroke="#efefef" stroke-width="0.7" />
<line x1="624.28" y1="129.6" x2="624.28" y2="177.7" stroke="#efefef" stroke-width="0.7" />
<line x1="640.96" y1="28.6" x2="640.96" y2="99.6" stroke="#efefef" stroke-width="0.7" />
<line x1="640.96" y1="129.6" x2="640.96" y2="177.7" stroke="#efefef" stroke-width="0.7" />
<line x1="657.64" y1="28.6" x2="657.64" y2="99.6" stroke="#efefef" stroke-width="0.7" />
<line x1="657.64" y1="129.6" x2="657.64" y2="177.7" stroke="#efefef" stroke-width="0.7" />
<line x1="674.32" y1="28.6" x2="674.32" y2="99.6" stroke="#efefef" stroke-width="0.7" />
<line x1="674.32" y1="129.6" x2="674.32" y2="177.7" stroke="#efefef" stroke-width="0.7" />
<line x1="691" y1="28.6" x2="691" y2="99.6" stroke="#efefef" stroke-width="0.7" />
<line x1="691" y1="129.6" x2="691" y2="177.7" stroke="#efefef" stroke-width="0.7" />
<line x1="707.68" y1="28.6" x2="707.68" y2="99.6" stroke="#efefef" stroke-width="0.7" />
<line x1="707.68" y1="129.6" x2="707.68" y2="177.7" stroke="#efefef" stroke-width="0.7" />
<line x1="724.36" y1="28.6" x2="724.36" y2="99.6" stroke="#efefef" stroke-width="0.7" />
<line x1="724.36" y1="129.6" x2="724.36" y2="177.7" stroke="#efefef" stroke-width="0.7" />
<line x1="741.04" y1="28.6" x2="741.04" y2="99.6" stroke="#efefef" stroke-width="0.7" />
<line x1="741.04" y1="129.6" x2="741.04" y2="177.7" stroke="#efefef" stroke-width="0.7" />
<line x1="607.6" y1="95.8" x2="757.4" y2="95.8" stroke="#efefef" stroke-width="0.7" />
<line x1="607.6" y1="81" x2="757.4" y2="81" stroke="#efefef" stroke-width="0.7" />
<line x1="607.6" y1="66.2" x2="757.4" y2="66.2" stroke="#efefef" stroke-width="0.7" />
<line x1="607.6" y1="51.4" x2="757.4" y2="51.4" stroke="#efefef" stroke-width="0.7" />
<line x1="607.6" y1="36.6" x2="757.4" y2="36.6" stroke="#efefef" stroke-width="0.7" />
<line x1="607.6" y1="135" x2="757.4" y2="135" stroke="#efefef" stroke-width="0.7" />
<line x1="607.6" y1="142.2" x2="757.4" y2="142.2" stroke="#efefef" stroke-width="0.7" />
<line x1="607.6" y1="149.4" x2="757.4" y2="149.4" stroke="#efefef" stroke-width="0.7" />
<line x1="607.6" y1="163.8" x2="757.4" y2="163.8" stroke="#efefef" stroke-width="0.7" />
<line x1="607.6" y1="171" x2="757.4" y2="171" stroke="#efefef" stroke-width="0.7" />
<rect x="607.6" y="28.6" width="149.8" height="149.1" fill="none" stroke="#d4d4d4" stroke-width="0.9"/>
<line x1="607.6" y1="99.6" x2="757.4" y2="99.6" stroke="#d4d4d4" stroke-width="0.9" />
<line x1="607.6" y1="100.2" x2="757.4" y2="100.2" stroke="#d4d4d4" stroke-width="0.6" />
<line x1="607.6" y1="124" x2="757.4" y2="124" stroke="#d4d4d4" stroke-width="0.7" />
<line x1="607.6" y1="129.6" x2="757.4" y2="129.6" stroke="#d4d4d4" stroke-width="0.7" />
<line x1="607.6" y1="95.8" x2="757.4" y2="95.8" stroke="#c8c8c8" stroke-width="1" />
<polyline points="607.6,96.2 608,90.3 609.5,92.7 610.9,83.8 612.4,80.2 616.9,86.1 617.8,78.4 622.2,82.6 623.4,72.5 627,76.6 629.3,68.9 630.5,70.1 631.7,68.3 632.9,69.8 634.1,67.7 639.4,73.1 640.6,60 642.4,58.3 644.2,57.7 646,52.9 646.8,44.6 648.3,42.2 650.1,44 651.9,39.3 653.1,39.3 658.4,45.2 660.8,42.2 661.8,35.1 663.4,31.6 671.5,39.9 672.9,35.4 678,39.9 679.8,40.5 681.6,42 683.6,39.6 686.9,42.2 695,49.9 700.8,52.1 705.2,55 711.9,61 723,72 734,83.1 736.5,84.5 738,84 742.9,89.8 749.1,95.7" fill="none" stroke="#00f000" stroke-width="1.6" stroke-linejoin="round"/>
<line x1="608" y1="100.8" x2="608" y2="123.7" stroke="#c0c0c0" stroke-width="1.6" />
<line x1="610.9" y1="100.8" x2="610.9" y2="123.7" stroke="#404040" stroke-width="1.6" />
<line x1="611.9" y1="100.8" x2="611.9" y2="123.7" stroke="#888888" stroke-width="1.6" />
<line x1="617.5" y1="100.8" x2="617.5" y2="123.7" stroke="#404040" stroke-width="1.6" />
<line x1="622.5" y1="100.8" x2="622.5" y2="123.7" stroke="#888888" stroke-width="1.6" />
<line x1="623" y1="100.8" x2="623" y2="123.7" stroke="#404040" stroke-width="1.6" />
<line x1="628.1" y1="100.8" x2="628.1" y2="123.7" stroke="#404040" stroke-width="1.6" />
<line x1="628.8" y1="100.8" x2="628.8" y2="123.7" stroke="#888888" stroke-width="1.6" />
<line x1="631.7" y1="100.8" x2="631.7" y2="123.7" stroke="#c0c0c0" stroke-width="1.6" />
<line x1="634.1" y1="100.8" x2="634.1" y2="123.7" stroke="#888888" stroke-width="1.6" />
<line x1="640.4" y1="100.8" x2="640.4" y2="123.7" stroke="#404040" stroke-width="1.6" />
<line x1="641.5" y1="100.8" x2="641.5" y2="123.7" stroke="#888888" stroke-width="1.6" />
<line x1="642.5" y1="100.8" x2="642.5" y2="123.7" stroke="#888888" stroke-width="1.6" />
<line x1="643.6" y1="100.8" x2="643.6" y2="123.7" stroke="#888888" stroke-width="1.6" />
<line x1="644.6" y1="100.8" x2="644.6" y2="123.7" stroke="#888888" stroke-width="1.6" />
<line x1="645.7" y1="100.8" x2="645.7" y2="123.7" stroke="#888888" stroke-width="1.6" />
<line x1="646.4" y1="100.8" x2="646.4" y2="123.7" stroke="#404040" stroke-width="1.6" />
<line x1="650.4" y1="100.8" x2="650.4" y2="123.7" stroke="#888888" stroke-width="1.6" />
<line x1="652" y1="100.8" x2="652" y2="123.7" stroke="#404040" stroke-width="1.6" />
<line x1="658.9" y1="100.8" x2="658.9" y2="123.7" stroke="#888888" stroke-width="1.6" />
<line x1="659.9" y1="100.8" x2="659.9" y2="123.7" stroke="#404040" stroke-width="1.6" />
<line x1="661.5" y1="100.8" x2="661.5" y2="123.7" stroke="#404040" stroke-width="1.6" />
<line x1="662.6" y1="100.8" x2="662.6" y2="123.7" stroke="#888888" stroke-width="1.6" />
<line x1="672.1" y1="100.8" x2="672.1" y2="123.7" stroke="#404040" stroke-width="1.6" />
<line x1="678.4" y1="100.8" x2="678.4" y2="123.7" stroke="#404040" stroke-width="1.6" />
<line x1="681.2" y1="100.8" x2="681.2" y2="123.7" stroke="#404040" stroke-width="1.6" />
<line x1="683.6" y1="100.8" x2="683.6" y2="123.7" stroke="#404040" stroke-width="1.6" />
<line x1="686.4" y1="100.8" x2="686.4" y2="123.7" stroke="#404040" stroke-width="1.6" />
<line x1="694.4" y1="100.8" x2="694.4" y2="123.7" stroke="#404040" stroke-width="1.6" />
<line x1="697" y1="100.8" x2="697" y2="123.7" stroke="#888888" stroke-width="1.6" />
<line x1="697.8" y1="100.8" x2="697.8" y2="123.7" stroke="#888888" stroke-width="1.6" />
<line x1="698.5" y1="100.8" x2="698.5" y2="123.7" stroke="#888888" stroke-width="1.6" />
<line x1="700.6" y1="100.8" x2="700.6" y2="123.7" stroke="#404040" stroke-width="1.6" />
<line x1="703.5" y1="100.8" x2="703.5" y2="123.7" stroke="#888888" stroke-width="1.6" />
<line x1="704.3" y1="100.8" x2="704.3" y2="123.7" stroke="#888888" stroke-width="1.6" />
<line x1="705.2" y1="100.8" x2="705.2" y2="123.7" stroke="#888888" stroke-width="1.6" />
<line x1="710.7" y1="100.8" x2="710.7" y2="123.7" stroke="#404040" stroke-width="1.6" />
<line x1="719.4" y1="100.8" x2="719.4" y2="123.7" stroke="#404040" stroke-width="1.6" />
<line x1="728.9" y1="100.8" x2="728.9" y2="123.7" stroke="#404040" stroke-width="1.6" />
<line x1="736.4" y1="100.8" x2="736.4" y2="123.7" stroke="#404040" stroke-width="1.6" />
<line x1="742.6" y1="100.8" x2="742.6" y2="123.7" stroke="#404040" stroke-width="1.6" />
<rect x="607.6" y="124" width="4.6" height="5.6" fill="#d80808" />
<rect x="612" y="124" width="12.8" height="5.6" fill="#e02020" />
<rect x="624.6" y="124" width="35.6" height="5.6" fill="#ec3c3c" />
<rect x="660" y="124" width="20.2" height="5.6" fill="#f25a6a" />
<rect x="680" y="124" width="22.8" height="5.6" fill="#f87080" />
<rect x="702.6" y="124" width="16.2" height="5.6" fill="#f6b0e0" />
<rect x="718.6" y="124" width="12.5" height="5.6" fill="#d4d4f8" />
<rect x="730.9" y="124" width="5.4" height="5.6" fill="#9898f0" />
<rect x="736.1" y="124" width="8.9" height="5.6" fill="#6464e8" />
<rect x="744.8" y="124" width="5.6" height="5.6" fill="#2008d0" />
<polygon points="607.5,156.6 607.5,136.94 608.22,140.04 609.36,141.26 613.17,143.64 619.37,145.08 631.75,147.02 644.13,148.68 656.51,150.12 668.89,151.13 681.27,152.57 693.66,153.5 706.04,154.94 718.42,156.6 725.64,157.82 732.87,160.2 741.12,162.65 746.28,166.18 748.86,169.85 749.89,176.04 750.2,178.2 750.2,156.6" fill="#c6c6c6" />
<line x1="718.5" y1="129.6" x2="718.5" y2="177.7" stroke="#999" stroke-width="0.6" stroke-dasharray="1,1.5"/>
<text x="718.5" y="155.6" font-size="4" font-weight="normal" text-anchor="middle" fill="#222" textLength="27.5" lengthAdjust="spacingAndGlyphs" >Zero cross at 6633</text>
<text x="607.6" y="135" font-size="5.3" font-weight="bold" text-anchor="start" fill="#ff2020" textLength="59" lengthAdjust="spacingAndGlyphs" >0.5 dpr (positively correlated)</text>
<text x="682.5" y="175.9" font-size="5.3" font-weight="bold" text-anchor="start" fill="#2020ff" textLength="52.6" lengthAdjust="spacingAndGlyphs" >Con (positively correlated)</text>
<text x="606" y="98.3" font-size="7" font-weight="normal" text-anchor="end" fill="#222" stroke="#222" stroke-width="0.14" >0.0</text>
<text x="606" y="83.5" font-size="7" font-weight="normal" text-anchor="end" fill="#222" stroke="#222" stroke-width="0.14" >0.1</text>
<text x="606" y="68.7" font-size="7" font-weight="normal" text-anchor="end" fill="#222" stroke="#222" stroke-width="0.14" >0.2</text>
<text x="606" y="53.9" font-size="7" font-weight="normal" text-anchor="end" fill="#222" stroke="#222" stroke-width="0.14" >0.3</text>
<text x="606" y="39.1" font-size="7" font-weight="normal" text-anchor="end" fill="#222" stroke="#222" stroke-width="0.14" >0.4</text>
<text x="605.7" y="137.2" font-size="6.2" font-weight="normal" text-anchor="end" fill="#222" stroke="#222" stroke-width="0.12" >3</text>
<text x="605.7" y="144.4" font-size="6.2" font-weight="normal" text-anchor="end" fill="#222" stroke="#222" stroke-width="0.12" >2</text>
<text x="605.7" y="151.6" font-size="6.2" font-weight="normal" text-anchor="end" fill="#222" stroke="#222" stroke-width="0.12" >1</text>
<text x="605.7" y="158.8" font-size="6.2" font-weight="normal" text-anchor="end" fill="#222" stroke="#222" stroke-width="0.12" >0</text>
<text x="605.7" y="166" font-size="6.2" font-weight="normal" text-anchor="end" fill="#222" stroke="#222" stroke-width="0.12" >-1</text>
<text x="605.7" y="173.2" font-size="6.2" font-weight="normal" text-anchor="end" fill="#222" stroke="#222" stroke-width="0.12" >-2</text>
<text x="607.6" y="186.7" font-size="6.3" font-weight="normal" text-anchor="middle" fill="#222" stroke="#222" stroke-width="0.13" >0</text>
<text x="640.96" y="186.7" font-size="6.3" font-weight="normal" text-anchor="middle" fill="#222" stroke="#222" stroke-width="0.13" >2000</text>
<text x="674.32" y="186.7" font-size="6.3" font-weight="normal" text-anchor="middle" fill="#222" stroke="#222" stroke-width="0.13" >4000</text>
<text x="707.68" y="186.7" font-size="6.3" font-weight="normal" text-anchor="middle" fill="#222" stroke="#222" stroke-width="0.13" >6000</text>
<text x="741.04" y="186.7" font-size="6.3" font-weight="normal" text-anchor="middle" fill="#222" stroke="#222" stroke-width="0.13" >8000</text>
<text x="611.5" y="22.6" font-size="9.4" font-weight="bold" text-anchor="start" fill="#000" stroke="#000" stroke-width="0.19" textLength="140.3" lengthAdjust="spacingAndGlyphs" >Enrichment plot: Junb pathway</text>
<text x="680.8" y="198" font-size="8.7" font-weight="bold" text-anchor="middle" fill="#000" stroke="#000" stroke-width="0.17" textLength="101.5" lengthAdjust="spacingAndGlyphs" >Runk in Ordered Dataset</text>
<text x="720.8" y="37.6" font-size="6.5" font-weight="bold" text-anchor="start" fill="#111" stroke="#111" stroke-width="0.13" >NES=1.65</text>
<text x="720.8" y="44.9" font-size="6.5" font-weight="bold" text-anchor="start" fill="#111" stroke="#111" stroke-width="0.13" >NOM p=0</text>
<text x="720.8" y="52.2" font-size="6.5" font-weight="bold" text-anchor="start" fill="#111" stroke="#111" stroke-width="0.13" >FDR q=0</text>
<line x1="73.75" y1="523.6" x2="73.75" y2="592.5" stroke="#efefef" stroke-width="0.7" />
<line x1="73.75" y1="624.6" x2="73.75" y2="672.8" stroke="#efefef" stroke-width="0.7" />
<line x1="90.4" y1="523.6" x2="90.4" y2="592.5" stroke="#efefef" stroke-width="0.7" />
<line x1="90.4" y1="624.6" x2="90.4" y2="672.8" stroke="#efefef" stroke-width="0.7" />
<line x1="107.05" y1="523.6" x2="107.05" y2="592.5" stroke="#efefef" stroke-width="0.7" />
<line x1="107.05" y1="624.6" x2="107.05" y2="672.8" stroke="#efefef" stroke-width="0.7" />
<line x1="123.7" y1="523.6" x2="123.7" y2="592.5" stroke="#efefef" stroke-width="0.7" />
<line x1="123.7" y1="624.6" x2="123.7" y2="672.8" stroke="#efefef" stroke-width="0.7" />
<line x1="140.35" y1="523.6" x2="140.35" y2="592.5" stroke="#efefef" stroke-width="0.7" />
<line x1="140.35" y1="624.6" x2="140.35" y2="672.8" stroke="#efefef" stroke-width="0.7" />
<line x1="157" y1="523.6" x2="157" y2="592.5" stroke="#efefef" stroke-width="0.7" />
<line x1="157" y1="624.6" x2="157" y2="672.8" stroke="#efefef" stroke-width="0.7" />
<line x1="173.65" y1="523.6" x2="173.65" y2="592.5" stroke="#efefef" stroke-width="0.7" />
<line x1="173.65" y1="624.6" x2="173.65" y2="672.8" stroke="#efefef" stroke-width="0.7" />
<line x1="190.3" y1="523.6" x2="190.3" y2="592.5" stroke="#efefef" stroke-width="0.7" />
<line x1="190.3" y1="624.6" x2="190.3" y2="672.8" stroke="#efefef" stroke-width="0.7" />
<line x1="57.1" y1="589.3" x2="206.3" y2="589.3" stroke="#efefef" stroke-width="0.7" />
<line x1="57.1" y1="574.75" x2="206.3" y2="574.75" stroke="#efefef" stroke-width="0.7" />
<line x1="57.1" y1="560.2" x2="206.3" y2="560.2" stroke="#efefef" stroke-width="0.7" />
<line x1="57.1" y1="545.65" x2="206.3" y2="545.65" stroke="#efefef" stroke-width="0.7" />
<line x1="57.1" y1="531.1" x2="206.3" y2="531.1" stroke="#efefef" stroke-width="0.7" />
<line x1="57.1" y1="629.75" x2="206.3" y2="629.75" stroke="#efefef" stroke-width="0.7" />
<line x1="57.1" y1="637" x2="206.3" y2="637" stroke="#efefef" stroke-width="0.7" />
<line x1="57.1" y1="644.25" x2="206.3" y2="644.25" stroke="#efefef" stroke-width="0.7" />
<line x1="57.1" y1="658.75" x2="206.3" y2="658.75" stroke="#efefef" stroke-width="0.7" />
<line x1="57.1" y1="666" x2="206.3" y2="666" stroke="#efefef" stroke-width="0.7" />
<rect x="57.1" y="523.6" width="149.2" height="149.2" fill="none" stroke="#d4d4d4" stroke-width="0.9"/>
<line x1="57.1" y1="592.5" x2="206.3" y2="592.5" stroke="#d4d4d4" stroke-width="0.9" />
<line x1="57.1" y1="595.2" x2="206.3" y2="595.2" stroke="#d4d4d4" stroke-width="0.6" />
<line x1="57.1" y1="619" x2="206.3" y2="619" stroke="#d4d4d4" stroke-width="0.7" />
<line x1="57.1" y1="624.6" x2="206.3" y2="624.6" stroke="#d4d4d4" stroke-width="0.7" />
<line x1="57.1" y1="589.3" x2="206.3" y2="589.3" stroke="#c8c8c8" stroke-width="1" />
<polyline points="57.6,589.2 59.2,591 61.9,575.4 66.6,580 68.2,572.3 69.2,573.8 72.4,560.1 75.1,561.7 76.1,557 77.2,558 78.7,550.1 80.3,550.6 81.9,543.2 85.1,545.9 87.7,539 89.8,530.6 91.9,527.9 93.5,529 95.6,526.9 97.7,527.2 100.4,529.5 102.5,528.4 106.7,532.1 109.9,530 113,531.6 118.3,534.8 122.5,535.3 126.8,538.8 128.4,538.5 135,544.3 144,547.1 152.4,551.2 160.7,558.2 171.7,569.3 180,574.8 187,580.3 189.5,581.5 192.5,580.9 199.4,589.2" fill="none" stroke="#00f000" stroke-width="1.6" stroke-linejoin="round"/>
<line x1="60.9" y1="595.8" x2="60.9" y2="618.7" stroke="#404040" stroke-width="1.6" />
<line x1="67.2" y1="595.8" x2="67.2" y2="618.7" stroke="#888888" stroke-width="1.6" />
<line x1="70.4" y1="595.8" x2="70.4" y2="618.7" stroke="#404040" stroke-width="1.6" />
<line x1="71.4" y1="595.8" x2="71.4" y2="618.7" stroke="#404040" stroke-width="1.6" />
<line x1="75.6" y1="595.8" x2="75.6" y2="618.7" stroke="#888888" stroke-width="1.6" />
<line x1="78.1" y1="595.8" x2="78.1" y2="618.7" stroke="#404040" stroke-width="1.6" />
<line x1="81.2" y1="595.8" x2="81.2" y2="618.7" stroke="#404040" stroke-width="1.6" />
<line x1="86.2" y1="595.8" x2="86.2" y2="618.7" stroke="#888888" stroke-width="1.6" />
<line x1="87.2" y1="595.8" x2="87.2" y2="618.7" stroke="#404040" stroke-width="1.6" />
<line x1="89.7" y1="595.8" x2="89.7" y2="618.7" stroke="#404040" stroke-width="1.6" />
<line x1="91.5" y1="595.8" x2="91.5" y2="618.7" stroke="#c0c0c0" stroke-width="1.6" />
<line x1="94.1" y1="595.8" x2="94.1" y2="618.7" stroke="#404040" stroke-width="1.6" />
<line x1="97.1" y1="595.8" x2="97.1" y2="618.7" stroke="#888888" stroke-width="1.6" />
<line x1="101.5" y1="595.8" x2="101.5" y2="618.7" stroke="#888888" stroke-width="1.6" />
<line x1="107.8" y1="595.8" x2="107.8" y2="618.7" stroke="#888888" stroke-width="1.6" />
<line x1="108.6" y1="595.8" x2="108.6" y2="618.7" stroke="#888888" stroke-width="1.6" />
<line x1="109.4" y1="595.8" x2="109.4" y2="618.7" stroke="#888888" stroke-width="1.6" />
<line x1="114.7" y1="595.8" x2="114.7" y2="618.7" stroke="#404040" stroke-width="1.6" />
<line x1="118.6" y1="595.8" x2="118.6" y2="618.7" stroke="#888888" stroke-width="1.6" />
<line x1="121" y1="595.8" x2="121" y2="618.7" stroke="#888888" stroke-width="1.6" />
<line x1="127" y1="595.8" x2="127" y2="618.7" stroke="#888888" stroke-width="1.6" />
<line x1="134.4" y1="595.8" x2="134.4" y2="618.7" stroke="#888888" stroke-width="1.6" />
<line x1="136.5" y1="595.8" x2="136.5" y2="618.7" stroke="#888888" stroke-width="1.6" />
<line x1="138.2" y1="595.8" x2="138.2" y2="618.7" stroke="#404040" stroke-width="1.6" />
<line x1="142.5" y1="595.8" x2="142.5" y2="618.7" stroke="#888888" stroke-width="1.6" />
<line x1="144.8" y1="595.8" x2="144.8" y2="618.7" stroke="#888888" stroke-width="1.6" />
<line x1="145.8" y1="595.8" x2="145.8" y2="618.7" stroke="#888888" stroke-width="1.6" />
<line x1="146.9" y1="595.8" x2="146.9" y2="618.7" stroke="#888888" stroke-width="1.6" />
<line x1="151.6" y1="595.8" x2="151.6" y2="618.7" stroke="#404040" stroke-width="1.6" />
<line x1="158.5" y1="595.8" x2="158.5" y2="618.7" stroke="#888888" stroke-width="1.6" />
<line x1="159.8" y1="595.8" x2="159.8" y2="618.7" stroke="#888888" stroke-width="1.6" />
<line x1="161.1" y1="595.8" x2="161.1" y2="618.7" stroke="#888888" stroke-width="1.6" />
<line x1="164.6" y1="595.8" x2="164.6" y2="618.7" stroke="#404040" stroke-width="1.6" />
<line x1="169.6" y1="595.8" x2="169.6" y2="618.7" stroke="#888888" stroke-width="1.6" />
<line x1="172.7" y1="595.8" x2="172.7" y2="618.7" stroke="#888888" stroke-width="1.6" />
<line x1="175.4" y1="595.8" x2="175.4" y2="618.7" stroke="#404040" stroke-width="1.6" />
<line x1="177.5" y1="595.8" x2="177.5" y2="618.7" stroke="#888888" stroke-width="1.6" />
<line x1="179.6" y1="595.8" x2="179.6" y2="618.7" stroke="#404040" stroke-width="1.6" />
<line x1="188.3" y1="595.8" x2="188.3" y2="618.7" stroke="#404040" stroke-width="1.6" />
<line x1="191.4" y1="595.8" x2="191.4" y2="618.7" stroke="#888888" stroke-width="1.6" />
<rect x="57" y="619" width="4.2" height="5.6" fill="#d80808" />
<rect x="61" y="619" width="13.2" height="5.6" fill="#e02020" />
<rect x="74" y="619" width="34.2" height="5.6" fill="#e63838" />
<rect x="108" y="619" width="22.2" height="5.6" fill="#f25a6a" />
<rect x="130" y="619" width="22.4" height="5.6" fill="#f87080" />
<rect x="152.2" y="619" width="16" height="5.6" fill="#f6b0e0" />
<rect x="168" y="619" width="12.9" height="5.6" fill="#d4d4f8" />
<rect x="180.7" y="619" width="4.4" height="5.6" fill="#9898f0" />
<rect x="184.9" y="619" width="9.7" height="5.6" fill="#6464e8" />
<rect x="194.4" y="619" width="5.5" height="5.6" fill="#2008d0" />
<polygon points="56.8,651.5 56.8,631.71 57.51,634.83 58.63,636.06 62.39,638.45 68.68,639.9 81.38,641.86 93.57,643.52 105.75,644.98 117.94,645.99 130.13,647.44 142.32,648.38 154.51,649.83 167.71,651.5 174.82,652.73 181.93,655.12 190.05,657.59 195.13,661.14 198.18,664.84 199.2,671.08 199.5,673.25 199.5,651.5" fill="#c6c6c6" />
<line x1="168.4" y1="624.6" x2="168.4" y2="672.8" stroke="#999" stroke-width="0.6" stroke-dasharray="1,1.5"/>
<text x="168.4" y="650.5" font-size="4" font-weight="normal" text-anchor="middle" fill="#222" textLength="27.5" lengthAdjust="spacingAndGlyphs" >Zero cross at 6633</text>
<text x="57.1" y="630" font-size="5.3" font-weight="bold" text-anchor="start" fill="#ff2020" textLength="59" lengthAdjust="spacingAndGlyphs" >0.5 dpr (positively correlated)</text>
<text x="133" y="671.3" font-size="5.3" font-weight="bold" text-anchor="start" fill="#2020ff" textLength="52.2" lengthAdjust="spacingAndGlyphs" >Con (positively correlated)</text>
<text x="55.5" y="591.8" font-size="7" font-weight="normal" text-anchor="end" fill="#222" stroke="#222" stroke-width="0.14" >0.0</text>
<text x="55.5" y="577.25" font-size="7" font-weight="normal" text-anchor="end" fill="#222" stroke="#222" stroke-width="0.14" >0.1</text>
<text x="55.5" y="562.7" font-size="7" font-weight="normal" text-anchor="end" fill="#222" stroke="#222" stroke-width="0.14" >0.2</text>
<text x="55.5" y="548.15" font-size="7" font-weight="normal" text-anchor="end" fill="#222" stroke="#222" stroke-width="0.14" >0.3</text>
<text x="55.5" y="533.6" font-size="7" font-weight="normal" text-anchor="end" fill="#222" stroke="#222" stroke-width="0.14" >0.4</text>
<text x="55.2" y="631.95" font-size="6.2" font-weight="normal" text-anchor="end" fill="#222" stroke="#222" stroke-width="0.12" >3</text>
<text x="55.2" y="639.2" font-size="6.2" font-weight="normal" text-anchor="end" fill="#222" stroke="#222" stroke-width="0.12" >2</text>
<text x="55.2" y="646.45" font-size="6.2" font-weight="normal" text-anchor="end" fill="#222" stroke="#222" stroke-width="0.12" >1</text>
<text x="55.2" y="653.7" font-size="6.2" font-weight="normal" text-anchor="end" fill="#222" stroke="#222" stroke-width="0.12" >0</text>
<text x="55.2" y="660.95" font-size="6.2" font-weight="normal" text-anchor="end" fill="#222" stroke="#222" stroke-width="0.12" >-1</text>
<text x="55.2" y="668.2" font-size="6.2" font-weight="normal" text-anchor="end" fill="#222" stroke="#222" stroke-width="0.12" >-2</text>
<text x="57.1" y="681.2" font-size="6.3" font-weight="normal" text-anchor="middle" fill="#222" stroke="#222" stroke-width="0.13" >0</text>
<text x="90.4" y="681.2" font-size="6.3" font-weight="normal" text-anchor="middle" fill="#222" stroke="#222" stroke-width="0.13" >2000</text>
<text x="123.7" y="681.2" font-size="6.3" font-weight="normal" text-anchor="middle" fill="#222" stroke="#222" stroke-width="0.13" >4000</text>
<text x="157" y="681.2" font-size="6.3" font-weight="normal" text-anchor="middle" fill="#222" stroke="#222" stroke-width="0.13" >6000</text>
<text x="190.3" y="681.2" font-size="6.3" font-weight="normal" text-anchor="middle" fill="#222" stroke="#222" stroke-width="0.13" >8000</text>
<text x="60.4" y="520.8" font-size="9.4" font-weight="bold" text-anchor="start" fill="#000" stroke="#000" stroke-width="0.19" textLength="144.6" lengthAdjust="spacingAndGlyphs" >Enrichment plot: Ccnt1 pathway</text>
<text x="130.6" y="691" font-size="8.7" font-weight="bold" text-anchor="middle" fill="#000" stroke="#000" stroke-width="0.17" textLength="101.5" lengthAdjust="spacingAndGlyphs" >Runk in Ordered Dataset</text>
<text x="38.6" y="556.4" font-size="7.6" font-weight="bold" text-anchor="middle" fill="#000" stroke="#000" stroke-width="0.15" transform="rotate(-90 38.6 556.4)" textLength="81" lengthAdjust="spacingAndGlyphs" >Enrichment score (ES)</text>
<text x="38.7" y="649" font-size="7.9" font-weight="bold" text-anchor="middle" fill="#000" stroke="#000" stroke-width="0.16" transform="rotate(-90 38.7 649)" textLength="67.7" lengthAdjust="spacingAndGlyphs" >Ranked list metric</text>
<text x="170.4" y="532.2" font-size="6.5" font-weight="bold" text-anchor="start" fill="#111" stroke="#111" stroke-width="0.13" >NES=1.67</text>
<text x="170.4" y="539.5" font-size="6.5" font-weight="bold" text-anchor="start" fill="#111" stroke="#111" stroke-width="0.13" >NOM p=0</text>
<text x="170.4" y="546.8" font-size="6.5" font-weight="bold" text-anchor="start" fill="#111" stroke="#111" stroke-width="0.13" >FDR q=0</text>
<text x="51.9" y="258.6" font-size="8.6" font-weight="bold" text-anchor="start" fill="#000" stroke="#000" stroke-width="0.17" textLength="24.9" lengthAdjust="spacingAndGlyphs" >empty</text>
<text x="91" y="258.6" font-size="8.6" font-weight="bold" text-anchor="start" fill="#000" stroke="#000" stroke-width="0.17" textLength="47.5" lengthAdjust="spacingAndGlyphs" >xFosl1-Flag</text>
<rect x="36.2" y="263.1" width="102.7" height="19.6" fill="#f3f3f3" stroke="#000" stroke-width="1.35"/>
<rect x="87" y="263.9" width="51.1" height="18" fill="#ededed" />
<rect x="88.5" y="273.8" width="47.5" height="4.4" rx="1.76" ry="2.2" fill="#777" filter="url(#bl2)" opacity="0.55"/>
<rect x="88" y="271.2" width="48.5" height="5.1" rx="2.04" ry="2.55" fill="#000" filter="url(#bl)" opacity="1"/>
<ellipse cx="104.17" cy="271.1" rx="1.6" ry="1.1" fill="#ececec" filter="url(#bl)" opacity="0.8"/>
<ellipse cx="104.17" cy="276.4" rx="1.6" ry="1.1" fill="#ececec" filter="url(#bl)" opacity="0.8"/>
<ellipse cx="120.33" cy="271.1" rx="1.6" ry="1.1" fill="#ececec" filter="url(#bl)" opacity="0.8"/>
<ellipse cx="120.33" cy="276.4" rx="1.6" ry="1.1" fill="#ececec" filter="url(#bl)" opacity="0.8"/>
<rect x="36.2" y="287.2" width="102.7" height="19.2" fill="#f0f0f0" stroke="#000" stroke-width="1.35"/>
<rect x="38.6" y="295.2" width="97.9" height="6.8" rx="2.72" ry="3.4" fill="#000" filter="url(#bl)" opacity="1"/>
<ellipse cx="54.92" cy="295.1" rx="1.6" ry="1.1" fill="#eeeeee" filter="url(#bl)" opacity="0.8"/>
<ellipse cx="54.92" cy="302.1" rx="1.6" ry="1.1" fill="#eeeeee" filter="url(#bl)" opacity="0.8"/>
<ellipse cx="71.23" cy="295.1" rx="1.6" ry="1.1" fill="#eeeeee" filter="url(#bl)" opacity="0.8"/>
<ellipse cx="71.23" cy="302.1" rx="1.6" ry="1.1" fill="#eeeeee" filter="url(#bl)" opacity="0.8"/>
<ellipse cx="87.55" cy="295.1" rx="1.6" ry="1.1" fill="#eeeeee" filter="url(#bl)" opacity="0.8"/>
<ellipse cx="87.55" cy="302.1" rx="1.6" ry="1.1" fill="#eeeeee" filter="url(#bl)" opacity="0.8"/>
<ellipse cx="103.87" cy="295.1" rx="1.6" ry="1.1" fill="#eeeeee" filter="url(#bl)" opacity="0.8"/>
<ellipse cx="103.87" cy="302.1" rx="1.6" ry="1.1" fill="#eeeeee" filter="url(#bl)" opacity="0.8"/>
<ellipse cx="120.18" cy="295.1" rx="1.6" ry="1.1" fill="#eeeeee" filter="url(#bl)" opacity="0.8"/>
<ellipse cx="120.18" cy="302.1" rx="1.6" ry="1.1" fill="#eeeeee" filter="url(#bl)" opacity="0.8"/>
<line x1="86.5" y1="243.7" x2="86.5" y2="306.2" stroke="#000" stroke-width="1" stroke-dasharray="2.6,1.6"/>
<text x="30.1" y="277.7" font-size="8.4" font-weight="bold" text-anchor="end" fill="#000" stroke="#000" stroke-width="0.17" textLength="16.6" lengthAdjust="spacingAndGlyphs" >Flag</text>
<text x="31.1" y="300.8" font-size="8.6" font-weight="bold" text-anchor="end" fill="#000" stroke="#000" stroke-width="0.17" textLength="28.1" lengthAdjust="spacingAndGlyphs" >&#946;-actin</text>
<text x="207.4" y="258.6" font-size="8.6" font-weight="bold" text-anchor="start" fill="#000" stroke="#000" stroke-width="0.17" textLength="24.9" lengthAdjust="spacingAndGlyphs" >empty</text>
<text x="250.9" y="258.6" font-size="8.6" font-weight="bold" text-anchor="start" fill="#000" stroke="#000" stroke-width="0.17" textLength="41.6" lengthAdjust="spacingAndGlyphs" >xJunB-HA</text>
<rect x="192.2" y="263.1" width="102.7" height="19.6" fill="#f6f6f6" stroke="#000" stroke-width="1.35"/>
<rect x="247" y="273.5" width="47" height="7.5" rx="3" ry="3.75" fill="#777" filter="url(#bl2)" opacity="0.7"/>
<rect x="246" y="271" width="22.2" height="6.2" rx="2.48" ry="3.1" fill="#000" filter="url(#bl)" opacity="1"/>
<rect x="268.4" y="271" width="24" height="6.2" rx="2.48" ry="3.1" fill="#000" filter="url(#bl)" opacity="1"/>
<rect x="192.2" y="287.2" width="102.7" height="19.2" fill="#dedede" stroke="#000" stroke-width="1.35"/>
<rect x="194.5" y="294.6" width="24.8" height="5.8" rx="2.32" ry="2.9" fill="#000" filter="url(#bl)" opacity="1"/>
<rect x="222.2" y="294.6" width="20.8" height="5.8" rx="2.32" ry="2.9" fill="#000" filter="url(#bl)" opacity="1"/>
<rect x="247" y="294.6" width="21.7" height="5.8" rx="2.32" ry="2.9" fill="#000" filter="url(#bl)" opacity="1"/>
<rect x="269.7" y="294.6" width="22.8" height="5.8" rx="2.32" ry="2.9" fill="#000" filter="url(#bl)" opacity="1"/>
<line x1="243.4" y1="244.3" x2="243.4" y2="306.2" stroke="#000" stroke-width="1" stroke-dasharray="2.6,1.6"/>
<text x="187.4" y="277.5" font-size="8.6" font-weight="bold" text-anchor="end" fill="#000" stroke="#000" stroke-width="0.17" textLength="11.9" lengthAdjust="spacingAndGlyphs" >HA</text>
<text x="188" y="301.6" font-size="8.6" font-weight="bold" text-anchor="end" fill="#000" stroke="#000" stroke-width="0.17" textLength="28.1" lengthAdjust="spacingAndGlyphs" >&#946;-actin</text>
<text x="364.6" y="257" font-size="8.4" font-weight="bold" text-anchor="start" fill="#000" stroke="#000" stroke-width="0.17" transform="rotate(-90 364.6 257)" textLength="20.6" lengthAdjust="spacingAndGlyphs" >Input</text>
<text x="394.6" y="245.7" font-size="9.5" font-weight="bold" text-anchor="start" fill="#000" stroke="#000" stroke-width="0.19" textLength="9" lengthAdjust="spacingAndGlyphs" >IP</text>
<line x1="376.3" y1="248.4" x2="422.9" y2="248.4" stroke="#000" stroke-width="1.2" />
<text x="379.2" y="258.4" font-size="8.7" font-weight="bold" text-anchor="start" fill="#000" stroke="#000" stroke-width="0.17" textLength="14.5" lengthAdjust="spacingAndGlyphs" >IgG</text>
<text x="404" y="258.4" font-size="8.7" font-weight="bold" text-anchor="start" fill="#000" stroke="#000" stroke-width="0.17" textLength="12" lengthAdjust="spacingAndGlyphs" >HA</text>
<rect x="354.3" y="263.5" width="69.1" height="18.9" fill="#f4f4f4" stroke="#000" stroke-width="1.35"/>
<rect x="377" y="264.5" width="22" height="6" fill="#e8e8e8" filter="url(#bl)"/>
<rect x="358.8" y="270" width="13.4" height="7" rx="2.8" ry="3.5" fill="#000" filter="url(#bl)" opacity="1"/>
<rect x="400.2" y="270.6" width="17.4" height="5" rx="2" ry="2.5" fill="#2a2a2a" filter="url(#bl)" opacity="1"/>
<rect x="354.3" y="287.4" width="69.1" height="18.8" fill="#f2f2f2" stroke="#000" stroke-width="1.35"/>
<rect x="358.4" y="293.8" width="13.8" height="5.8" rx="2.32" ry="2.9" fill="#000" filter="url(#bl)" opacity="1"/>
<rect x="400.2" y="294.2" width="17.4" height="3" rx="1.2" ry="1.5" fill="#b8b8b8" filter="url(#bl)" opacity="1"/>
<line x1="428" y1="263.5" x2="428" y2="307.6" stroke="#000" stroke-width="1.3" />
<text x="432.2" y="285.3" font-size="8.7" font-weight="bold" text-anchor="start" fill="#000" stroke="#000" stroke-width="0.17" textLength="7.8" lengthAdjust="spacingAndGlyphs" >IB</text>
<text x="347.5" y="276.4" font-size="8.7" font-weight="bold" text-anchor="end" fill="#000" stroke="#000" stroke-width="0.17" textLength="11.2" lengthAdjust="spacingAndGlyphs" >HA</text>
<text x="347.5" y="298.8" font-size="8.7" font-weight="bold" text-anchor="end" fill="#000" stroke="#000" stroke-width="0.17" textLength="17.1" lengthAdjust="spacingAndGlyphs" >Flag</text>
<text x="500.6" y="257.9" font-size="8.4" font-weight="bold" text-anchor="start" fill="#000" stroke="#000" stroke-width="0.17" transform="rotate(-90 500.6 257.9)" textLength="20.6" lengthAdjust="spacingAndGlyphs" >Input</text>
<text x="528" y="245.7" font-size="9.5" font-weight="bold" text-anchor="start" fill="#000" stroke="#000" stroke-width="0.19" textLength="8.8" lengthAdjust="spacingAndGlyphs" >IP</text>
<line x1="513.8" y1="247.6" x2="555.5" y2="247.6" stroke="#000" stroke-width="1.2" />
<text x="513.8" y="258.7" font-size="8.7" font-weight="bold" text-anchor="start" fill="#000" stroke="#000" stroke-width="0.17" textLength="14.2" lengthAdjust="spacingAndGlyphs" >IgG</text>
<text x="534.4" y="258.7" font-size="8.7" font-weight="bold" text-anchor="start" fill="#000" stroke="#000" stroke-width="0.17" textLength="17.6" lengthAdjust="spacingAndGlyphs" >Flag</text>
<rect x="488" y="263.5" width="68.7" height="18.7" fill="#f6f6f6" stroke="#000" stroke-width="1.35"/>
<rect x="493.7" y="271.2" width="16.3" height="4.2" rx="1.68" ry="2.1" fill="#000" filter="url(#bl)" opacity="1"/>
<rect x="532" y="270.6" width="19.5" height="5.4" rx="2.16" ry="2.7" fill="#555" filter="url(#bl)" opacity="1"/>
<rect x="488" y="287.4" width="68.7" height="18.8" fill="#f4f4f4" stroke="#000" stroke-width="1.35"/>
<rect x="492.9" y="294.4" width="18" height="5" rx="2" ry="2.5" fill="#000" filter="url(#bl)" opacity="1"/>
<rect x="512" y="295" width="18" height="4" rx="1.6" ry="2" fill="#ddd" filter="url(#bl2)" opacity="1"/>
<rect x="533.2" y="294" width="18.3" height="6" rx="2.4" ry="3" fill="#111" filter="url(#bl)" opacity="1"/>
<line x1="560.1" y1="263.5" x2="560.1" y2="307.6" stroke="#000" stroke-width="1.3" />
<text x="563.2" y="290.5" font-size="8.7" font-weight="bold" text-anchor="start" fill="#000" stroke="#000" stroke-width="0.17" textLength="7.8" lengthAdjust="spacingAndGlyphs" >IB</text>
<text x="482.2" y="277.3" font-size="8.7" font-weight="bold" text-anchor="end" fill="#000" stroke="#000" stroke-width="0.17" textLength="17.5" lengthAdjust="spacingAndGlyphs" >Flag</text>
<text x="481.8" y="297.8" font-size="8.7" font-weight="bold" text-anchor="end" fill="#000" stroke="#000" stroke-width="0.17" textLength="12" lengthAdjust="spacingAndGlyphs" >HA</text>
<text x="648.3" y="258.8" font-size="8.4" font-weight="bold" text-anchor="start" fill="#000" stroke="#000" stroke-width="0.17" transform="rotate(-90 648.3 258.8)" textLength="21.9" lengthAdjust="spacingAndGlyphs" >Input</text>
<text x="679.2" y="246" font-size="9.5" font-weight="bold" text-anchor="start" fill="#000" stroke="#000" stroke-width="0.19" textLength="8.5" lengthAdjust="spacingAndGlyphs" >IP</text>
<line x1="660.9" y1="247.7" x2="703.6" y2="247.7" stroke="#000" stroke-width="1.2" />
<text x="661.5" y="258.8" font-size="8.7" font-weight="bold" text-anchor="start" fill="#000" stroke="#000" stroke-width="0.17" textLength="14" lengthAdjust="spacingAndGlyphs" >IgG</text>
<text x="682.3" y="258.8" font-size="8.7" font-weight="bold" text-anchor="start" fill="#000" stroke="#000" stroke-width="0.17" textLength="21.9" lengthAdjust="spacingAndGlyphs" >Fosl1</text>
<rect x="634.4" y="263.6" width="69.2" height="19.6" fill="#ededed" stroke="#000" stroke-width="1.35"/>
<rect x="638.6" y="271" width="19.8" height="4.8" rx="1.92" ry="2.4" fill="#000" filter="url(#bl)" opacity="1"/>
<defs><linearGradient id="fg1" x1="0" x2="1"><stop offset="0" stop-color="#222"/><stop offset="1" stop-color="#bbb"/></linearGradient></defs>
<rect x="683.4" y="271.2" width="15.6" height="4.4" rx="1.76" ry="2.2" fill="url(#fg1)" filter="url(#bl)" opacity="1"/>
<rect x="634.4" y="287.5" width="69.2" height="19.2" fill="#eaeaea" stroke="#000" stroke-width="1.35"/>
<rect x="637.5" y="293" width="23" height="7.7" rx="3.08" ry="3.85" fill="#000" filter="url(#bl)" opacity="1"/>
<rect x="683.4" y="294" width="16.2" height="6.6" rx="2.64" ry="3.3" fill="#000" filter="url(#bl)" opacity="1"/>
<line x1="739.3" y1="263" x2="739.3" y2="306.7" stroke="#000" stroke-width="1.3" />
<text x="742.8" y="287.5" font-size="8.7" font-weight="bold" text-anchor="start" fill="#000" stroke="#000" stroke-width="0.17" textLength="7.7" lengthAdjust="spacingAndGlyphs" >IB</text>
<text x="629.8" y="277.1" font-size="8.7" font-weight="bold" text-anchor="end" fill="#000" stroke="#000" stroke-width="0.17" textLength="21.5" lengthAdjust="spacingAndGlyphs" >JunB</text>
<text x="629.8" y="301.1" font-size="8.7" font-weight="bold" text-anchor="end" fill="#000" stroke="#000" stroke-width="0.17" textLength="21.5" lengthAdjust="spacingAndGlyphs" >JunB</text>
<text x="708.8" y="276.9" font-size="8.7" font-weight="bold" text-anchor="start" fill="#000" stroke="#000" stroke-width="0.17" textLength="23.2" lengthAdjust="spacingAndGlyphs" >Sham</text>
<text x="709.9" y="301.1" font-size="8.7" font-weight="bold" text-anchor="start" fill="#000" stroke="#000" stroke-width="0.17" textLength="20.4" lengthAdjust="spacingAndGlyphs" >1 dpr</text>
<line x1="29.1" y1="346.9" x2="29.1" y2="458.8" stroke="#000" stroke-width="1.4" />
<line x1="25.4" y1="458.2" x2="29.1" y2="458.2" stroke="#000" stroke-width="1.3" />
<text x="23.2" y="461.9" font-size="10.2" font-weight="bold" text-anchor="end" fill="#000" stroke="#000" stroke-width="0.2" >0</text>
<line x1="25.4" y1="439.75" x2="29.1" y2="439.75" stroke="#000" stroke-width="1.3" />
<text x="23.2" y="443.45" font-size="10.2" font-weight="bold" text-anchor="end" fill="#000" stroke="#000" stroke-width="0.2" >1</text>
<line x1="25.4" y1="421.3" x2="29.1" y2="421.3" stroke="#000" stroke-width="1.3" />
<text x="23.2" y="425" font-size="10.2" font-weight="bold" text-anchor="end" fill="#000" stroke="#000" stroke-width="0.2" >2</text>
<line x1="25.4" y1="402.85" x2="29.1" y2="402.85" stroke="#000" stroke-width="1.3" />
<text x="23.2" y="406.55" font-size="10.2" font-weight="bold" text-anchor="end" fill="#000" stroke="#000" stroke-width="0.2" >3</text>
<line x1="25.4" y1="384.4" x2="29.1" y2="384.4" stroke="#000" stroke-width="1.3" />
<text x="23.2" y="388.1" font-size="10.2" font-weight="bold" text-anchor="end" fill="#000" stroke="#000" stroke-width="0.2" >4</text>
<line x1="25.4" y1="365.95" x2="29.1" y2="365.95" stroke="#000" stroke-width="1.3" />
<text x="23.2" y="369.65" font-size="10.2" font-weight="bold" text-anchor="end" fill="#000" stroke="#000" stroke-width="0.2" >5</text>
<line x1="25.4" y1="347.5" x2="29.1" y2="347.5" stroke="#000" stroke-width="1.3" />
<text x="23.2" y="351.2" font-size="10.2" font-weight="bold" text-anchor="end" fill="#000" stroke="#000" stroke-width="0.2" >6</text>
<line x1="28.4" y1="458.2" x2="390.3" y2="458.2" stroke="#000" stroke-width="1.4" />
<text x="11.2" y="403.5" font-size="11" font-weight="bold" text-anchor="middle" fill="#000" stroke="#000" stroke-width="0.22" transform="rotate(-90 11.2 403.5)" textLength="65.8" lengthAdjust="spacingAndGlyphs" >Fold change</text>
<rect x="31.8" y="439.75" width="6" height="18.45" fill="#00c000" />
<rect x="37.8" y="437.9" width="6" height="20.3" fill="#ff00ff" />
<line x1="34.8" y1="432.74" x2="34.8" y2="446.76" stroke="#000" stroke-width="1.2" />
<line x1="33.1" y1="432.74" x2="36.5" y2="432.74" stroke="#000" stroke-width="1.2" />
<line x1="33.1" y1="446.76" x2="36.5" y2="446.76" stroke="#000" stroke-width="1.2" />
<line x1="40.8" y1="432.37" x2="40.8" y2="443.44" stroke="#000" stroke-width="1.2" />
<line x1="39.1" y1="432.37" x2="42.5" y2="432.37" stroke="#000" stroke-width="1.2" />
<line x1="39.1" y1="443.44" x2="42.5" y2="443.44" stroke="#000" stroke-width="1.2" />
<line x1="37.8" y1="458.2" x2="37.8" y2="461.6" stroke="#000" stroke-width="1.2" />
<text x="41.5" y="463.4" font-size="9.7" font-weight="bold" text-anchor="end" fill="#000" stroke="#000" stroke-width="0.19" transform="rotate(-90 41.5 463.4)" >cdk2</text>
<rect x="49.85" y="439.75" width="6" height="18.45" fill="#00c000" />
<rect x="55.85" y="371.49" width="6" height="86.71" fill="#ff00ff" />
<line x1="52.85" y1="436.06" x2="52.85" y2="443.44" stroke="#000" stroke-width="1.2" />
<line x1="51.15" y1="436.06" x2="54.55" y2="436.06" stroke="#000" stroke-width="1.2" />
<line x1="51.15" y1="443.44" x2="54.55" y2="443.44" stroke="#000" stroke-width="1.2" />
<line x1="58.85" y1="354.88" x2="58.85" y2="388.09" stroke="#000" stroke-width="1.2" />
<line x1="57.15" y1="354.88" x2="60.55" y2="354.88" stroke="#000" stroke-width="1.2" />
<line x1="57.15" y1="388.09" x2="60.55" y2="388.09" stroke="#000" stroke-width="1.2" />
<line x1="55.85" y1="458.2" x2="55.85" y2="461.6" stroke="#000" stroke-width="1.2" />
<text x="59.55" y="463.4" font-size="9.7" font-weight="bold" text-anchor="end" fill="#000" stroke="#000" stroke-width="0.19" transform="rotate(-90 59.55 463.4)" >cdk4</text>
<rect x="67.9" y="439.75" width="6" height="18.45" fill="#00c000" />
<rect x="73.9" y="429.6" width="6" height="28.6" fill="#ff00ff" />
<line x1="70.9" y1="438.27" x2="70.9" y2="441.23" stroke="#000" stroke-width="1.2" />
<line x1="69.2" y1="438.27" x2="72.6" y2="438.27" stroke="#000" stroke-width="1.2" />
<line x1="69.2" y1="441.23" x2="72.6" y2="441.23" stroke="#000" stroke-width="1.2" />
<line x1="76.9" y1="425.54" x2="76.9" y2="433.66" stroke="#000" stroke-width="1.2" />
<line x1="75.2" y1="425.54" x2="78.6" y2="425.54" stroke="#000" stroke-width="1.2" />
<line x1="75.2" y1="433.66" x2="78.6" y2="433.66" stroke="#000" stroke-width="1.2" />
<line x1="73.9" y1="458.2" x2="73.9" y2="461.6" stroke="#000" stroke-width="1.2" />
<text x="77.6" y="463.4" font-size="9.7" font-weight="bold" text-anchor="end" fill="#000" stroke="#000" stroke-width="0.19" transform="rotate(-90 77.6 463.4)" >cdk8</text>
<rect x="85.95" y="439.75" width="6" height="18.45" fill="#00c000" />
<rect x="91.95" y="391.78" width="6" height="66.42" fill="#ff00ff" />
<line x1="88.95" y1="436.06" x2="88.95" y2="443.44" stroke="#000" stroke-width="1.2" />
<line x1="87.25" y1="436.06" x2="90.65" y2="436.06" stroke="#000" stroke-width="1.2" />
<line x1="87.25" y1="443.44" x2="90.65" y2="443.44" stroke="#000" stroke-width="1.2" />
<line x1="94.95" y1="383.48" x2="94.95" y2="400.08" stroke="#000" stroke-width="1.2" />
<line x1="93.25" y1="383.48" x2="96.65" y2="383.48" stroke="#000" stroke-width="1.2" />
<line x1="93.25" y1="400.08" x2="96.65" y2="400.08" stroke="#000" stroke-width="1.2" />
<line x1="91.95" y1="458.2" x2="91.95" y2="461.6" stroke="#000" stroke-width="1.2" />
<text x="95.65" y="463.4" font-size="9.7" font-weight="bold" text-anchor="end" fill="#000" stroke="#000" stroke-width="0.19" transform="rotate(-90 95.65 463.4)" >cdk9</text>
<rect x="104" y="439.75" width="6" height="18.45" fill="#00c000" />
<rect x="110" y="411.15" width="6" height="47.05" fill="#ff00ff" />
<line x1="107" y1="438.27" x2="107" y2="441.23" stroke="#000" stroke-width="1.2" />
<line x1="105.3" y1="438.27" x2="108.7" y2="438.27" stroke="#000" stroke-width="1.2" />
<line x1="105.3" y1="441.23" x2="108.7" y2="441.23" stroke="#000" stroke-width="1.2" />
<line x1="113" y1="405.62" x2="113" y2="416.69" stroke="#000" stroke-width="1.2" />
<line x1="111.3" y1="405.62" x2="114.7" y2="405.62" stroke="#000" stroke-width="1.2" />
<line x1="111.3" y1="416.69" x2="114.7" y2="416.69" stroke="#000" stroke-width="1.2" />
<line x1="110" y1="458.2" x2="110" y2="461.6" stroke="#000" stroke-width="1.2" />
<text x="113.7" y="463.4" font-size="9.7" font-weight="bold" text-anchor="end" fill="#000" stroke="#000" stroke-width="0.19" transform="rotate(-90 113.7 463.4)" >cdk12</text>
<rect x="122.05" y="439.75" width="6" height="18.45" fill="#00c000" />
<rect x="128.05" y="435.69" width="6" height="22.51" fill="#ff00ff" />
<line x1="125.05" y1="436.43" x2="125.05" y2="443.07" stroke="#000" stroke-width="1.2" />
<line x1="123.35" y1="436.43" x2="126.75" y2="436.43" stroke="#000" stroke-width="1.2" />
<line x1="123.35" y1="443.07" x2="126.75" y2="443.07" stroke="#000" stroke-width="1.2" />
<line x1="131.05" y1="428.86" x2="131.05" y2="442.52" stroke="#000" stroke-width="1.2" />
<line x1="129.35" y1="428.86" x2="132.75" y2="428.86" stroke="#000" stroke-width="1.2" />
<line x1="129.35" y1="442.52" x2="132.75" y2="442.52" stroke="#000" stroke-width="1.2" />
<line x1="128.05" y1="458.2" x2="128.05" y2="461.6" stroke="#000" stroke-width="1.2" />
<text x="131.75" y="463.4" font-size="9.7" font-weight="bold" text-anchor="end" fill="#000" stroke="#000" stroke-width="0.19" transform="rotate(-90 131.75 463.4)" >cdk13</text>
<rect x="140.1" y="439.75" width="6" height="18.45" fill="#00c000" />
<rect x="146.1" y="423.7" width="6" height="34.5" fill="#ff00ff" />
<line x1="143.1" y1="436.98" x2="143.1" y2="442.52" stroke="#000" stroke-width="1.2" />
<line x1="141.4" y1="436.98" x2="144.8" y2="436.98" stroke="#000" stroke-width="1.2" />
<line x1="141.4" y1="442.52" x2="144.8" y2="442.52" stroke="#000" stroke-width="1.2" />
<line x1="149.1" y1="414.84" x2="149.1" y2="432.55" stroke="#000" stroke-width="1.2" />
<line x1="147.4" y1="414.84" x2="150.8" y2="414.84" stroke="#000" stroke-width="1.2" />
<line x1="147.4" y1="432.55" x2="150.8" y2="432.55" stroke="#000" stroke-width="1.2" />
<line x1="146.1" y1="458.2" x2="146.1" y2="461.6" stroke="#000" stroke-width="1.2" />
<text x="149.8" y="463.4" font-size="9.7" font-weight="bold" text-anchor="end" fill="#000" stroke="#000" stroke-width="0.19" transform="rotate(-90 149.8 463.4)" >cdk17</text>
<rect x="158.15" y="439.75" width="6" height="18.45" fill="#00c000" />
<rect x="164.15" y="433.29" width="6" height="24.91" fill="#ff00ff" />
<line x1="161.15" y1="438.27" x2="161.15" y2="441.23" stroke="#000" stroke-width="1.2" />
<line x1="159.45" y1="438.27" x2="162.85" y2="438.27" stroke="#000" stroke-width="1.2" />
<line x1="159.45" y1="441.23" x2="162.85" y2="441.23" stroke="#000" stroke-width="1.2" />
<line x1="167.15" y1="429.6" x2="167.15" y2="436.98" stroke="#000" stroke-width="1.2" />
<line x1="165.45" y1="429.6" x2="168.85" y2="429.6" stroke="#000" stroke-width="1.2" />
<line x1="165.45" y1="436.98" x2="168.85" y2="436.98" stroke="#000" stroke-width="1.2" />
<line x1="164.15" y1="458.2" x2="164.15" y2="461.6" stroke="#000" stroke-width="1.2" />
<text x="167.85" y="463.4" font-size="9.7" font-weight="bold" text-anchor="end" fill="#000" stroke="#000" stroke-width="0.19" transform="rotate(-90 167.85 463.4)" >chek1</text>
<rect x="176.2" y="439.75" width="6" height="18.45" fill="#00c000" />
<rect x="182.2" y="420.75" width="6" height="37.45" fill="#ff00ff" />
<line x1="179.2" y1="436.98" x2="179.2" y2="442.52" stroke="#000" stroke-width="1.2" />
<line x1="177.5" y1="436.98" x2="180.9" y2="436.98" stroke="#000" stroke-width="1.2" />
<line x1="177.5" y1="442.52" x2="180.9" y2="442.52" stroke="#000" stroke-width="1.2" />
<line x1="185.2" y1="417.98" x2="185.2" y2="423.51" stroke="#000" stroke-width="1.2" />
<line x1="183.5" y1="417.98" x2="186.9" y2="417.98" stroke="#000" stroke-width="1.2" />
<line x1="183.5" y1="423.51" x2="186.9" y2="423.51" stroke="#000" stroke-width="1.2" />
<line x1="182.2" y1="458.2" x2="182.2" y2="461.6" stroke="#000" stroke-width="1.2" />
<text x="185.9" y="463.4" font-size="9.7" font-weight="bold" text-anchor="end" fill="#000" stroke="#000" stroke-width="0.19" transform="rotate(-90 185.9 463.4)" >chek2</text>
<rect x="194.25" y="439.75" width="6" height="18.45" fill="#00c000" />
<rect x="200.25" y="419.09" width="6" height="39.11" fill="#ff00ff" />
<line x1="197.25" y1="438.27" x2="197.25" y2="441.23" stroke="#000" stroke-width="1.2" />
<line x1="195.55" y1="438.27" x2="198.95" y2="438.27" stroke="#000" stroke-width="1.2" />
<line x1="195.55" y1="441.23" x2="198.95" y2="441.23" stroke="#000" stroke-width="1.2" />
<line x1="203.25" y1="412.07" x2="203.25" y2="426.1" stroke="#000" stroke-width="1.2" />
<line x1="201.55" y1="412.07" x2="204.95" y2="412.07" stroke="#000" stroke-width="1.2" />
<line x1="201.55" y1="426.1" x2="204.95" y2="426.1" stroke="#000" stroke-width="1.2" />
<line x1="200.25" y1="458.2" x2="200.25" y2="461.6" stroke="#000" stroke-width="1.2" />
<text x="203.95" y="463.4" font-size="9.7" font-weight="bold" text-anchor="end" fill="#000" stroke="#000" stroke-width="0.19" transform="rotate(-90 203.95 463.4)" >ccnc</text>
<rect x="212.3" y="439.75" width="6" height="18.45" fill="#00c000" />
<rect x="218.3" y="437.9" width="6" height="20.3" fill="#ff00ff" />
<line x1="215.3" y1="436.06" x2="215.3" y2="443.44" stroke="#000" stroke-width="1.2" />
<line x1="213.6" y1="436.06" x2="217" y2="436.06" stroke="#000" stroke-width="1.2" />
<line x1="213.6" y1="443.44" x2="217" y2="443.44" stroke="#000" stroke-width="1.2" />
<line x1="221.3" y1="435.14" x2="221.3" y2="440.67" stroke="#000" stroke-width="1.2" />
<line x1="219.6" y1="435.14" x2="223" y2="435.14" stroke="#000" stroke-width="1.2" />
<line x1="219.6" y1="440.67" x2="223" y2="440.67" stroke="#000" stroke-width="1.2" />
<line x1="218.3" y1="458.2" x2="218.3" y2="461.6" stroke="#000" stroke-width="1.2" />
<text x="222" y="463.4" font-size="9.7" font-weight="bold" text-anchor="end" fill="#000" stroke="#000" stroke-width="0.19" transform="rotate(-90 222 463.4)" >ccne2</text>
<rect x="230.35" y="439.75" width="6" height="18.45" fill="#00c000" />
<rect x="236.35" y="423.7" width="6" height="34.5" fill="#ff00ff" />
<line x1="233.35" y1="437.54" x2="233.35" y2="441.96" stroke="#000" stroke-width="1.2" />
<line x1="231.65" y1="437.54" x2="235.05" y2="437.54" stroke="#000" stroke-width="1.2" />
<line x1="231.65" y1="441.96" x2="235.05" y2="441.96" stroke="#000" stroke-width="1.2" />
<line x1="239.35" y1="420.01" x2="239.35" y2="427.39" stroke="#000" stroke-width="1.2" />
<line x1="237.65" y1="420.01" x2="241.05" y2="420.01" stroke="#000" stroke-width="1.2" />
<line x1="237.65" y1="427.39" x2="241.05" y2="427.39" stroke="#000" stroke-width="1.2" />
<line x1="236.35" y1="458.2" x2="236.35" y2="461.6" stroke="#000" stroke-width="1.2" />
<text x="240.05" y="463.4" font-size="9.7" font-weight="bold" text-anchor="end" fill="#000" stroke="#000" stroke-width="0.19" transform="rotate(-90 240.05 463.4)" >ccng2</text>
<rect x="248.4" y="439.75" width="6" height="18.45" fill="#00c000" />
<rect x="254.4" y="446.21" width="6" height="11.99" fill="#ff00ff" />
<line x1="251.4" y1="438.64" x2="251.4" y2="440.86" stroke="#000" stroke-width="1.2" />
<line x1="249.7" y1="438.64" x2="253.1" y2="438.64" stroke="#000" stroke-width="1.2" />
<line x1="249.7" y1="440.86" x2="253.1" y2="440.86" stroke="#000" stroke-width="1.2" />
<line x1="257.4" y1="444.36" x2="257.4" y2="448.05" stroke="#000" stroke-width="1.2" />
<line x1="255.7" y1="444.36" x2="259.1" y2="444.36" stroke="#000" stroke-width="1.2" />
<line x1="255.7" y1="448.05" x2="259.1" y2="448.05" stroke="#000" stroke-width="1.2" />
<line x1="254.4" y1="458.2" x2="254.4" y2="461.6" stroke="#000" stroke-width="1.2" />
<text x="258.1" y="463.4" font-size="9.7" font-weight="bold" text-anchor="end" fill="#000" stroke="#000" stroke-width="0.19" transform="rotate(-90 258.1 463.4)" >ccnk</text>
<rect x="266.45" y="439.75" width="6" height="18.45" fill="#00c000" />
<rect x="272.45" y="440.3" width="6" height="17.9" fill="#ff00ff" />
<line x1="269.45" y1="437.9" x2="269.45" y2="441.59" stroke="#000" stroke-width="1.2" />
<line x1="267.75" y1="437.9" x2="271.15" y2="437.9" stroke="#000" stroke-width="1.2" />
<line x1="267.75" y1="441.59" x2="271.15" y2="441.59" stroke="#000" stroke-width="1.2" />
<line x1="275.45" y1="434.77" x2="275.45" y2="445.84" stroke="#000" stroke-width="1.2" />
<line x1="273.75" y1="434.77" x2="277.15" y2="434.77" stroke="#000" stroke-width="1.2" />
<line x1="273.75" y1="445.84" x2="277.15" y2="445.84" stroke="#000" stroke-width="1.2" />
<line x1="272.45" y1="458.2" x2="272.45" y2="461.6" stroke="#000" stroke-width="1.2" />
<text x="276.15" y="463.4" font-size="9.7" font-weight="bold" text-anchor="end" fill="#000" stroke="#000" stroke-width="0.19" transform="rotate(-90 276.15 463.4)" >ccnl1</text>
<rect x="284.5" y="439.75" width="6" height="18.45" fill="#00c000" />
<rect x="290.5" y="419.09" width="6" height="39.11" fill="#ff00ff" />
<line x1="287.5" y1="437.54" x2="287.5" y2="441.96" stroke="#000" stroke-width="1.2" />
<line x1="285.8" y1="437.54" x2="289.2" y2="437.54" stroke="#000" stroke-width="1.2" />
<line x1="285.8" y1="441.96" x2="289.2" y2="441.96" stroke="#000" stroke-width="1.2" />
<line x1="293.5" y1="410.78" x2="293.5" y2="427.39" stroke="#000" stroke-width="1.2" />
<line x1="291.8" y1="410.78" x2="295.2" y2="410.78" stroke="#000" stroke-width="1.2" />
<line x1="291.8" y1="427.39" x2="295.2" y2="427.39" stroke="#000" stroke-width="1.2" />
<line x1="290.5" y1="458.2" x2="290.5" y2="461.6" stroke="#000" stroke-width="1.2" />
<text x="294.2" y="463.4" font-size="9.7" font-weight="bold" text-anchor="end" fill="#000" stroke="#000" stroke-width="0.19" transform="rotate(-90 294.2 463.4)" >ccnl2</text>
<rect x="302.55" y="439.75" width="6" height="18.45" fill="#00c000" />
<rect x="308.55" y="382.92" width="6" height="75.28" fill="#ff00ff" />
<line x1="305.55" y1="436.98" x2="305.55" y2="442.52" stroke="#000" stroke-width="1.2" />
<line x1="303.85" y1="436.98" x2="307.25" y2="436.98" stroke="#000" stroke-width="1.2" />
<line x1="303.85" y1="442.52" x2="307.25" y2="442.52" stroke="#000" stroke-width="1.2" />
<line x1="311.55" y1="367.61" x2="311.55" y2="398.24" stroke="#000" stroke-width="1.2" />
<line x1="309.85" y1="367.61" x2="313.25" y2="367.61" stroke="#000" stroke-width="1.2" />
<line x1="309.85" y1="398.24" x2="313.25" y2="398.24" stroke="#000" stroke-width="1.2" />
<line x1="308.55" y1="458.2" x2="308.55" y2="461.6" stroke="#000" stroke-width="1.2" />
<text x="312.25" y="463.4" font-size="9.7" font-weight="bold" text-anchor="end" fill="#000" stroke="#000" stroke-width="0.19" transform="rotate(-90 312.25 463.4)" >ccnt1</text>
<rect x="320.6" y="439.75" width="6" height="18.45" fill="#00c000" />
<rect x="326.6" y="423.14" width="6" height="35.06" fill="#ff00ff" />
<line x1="323.6" y1="437.54" x2="323.6" y2="441.96" stroke="#000" stroke-width="1.2" />
<line x1="321.9" y1="437.54" x2="325.3" y2="437.54" stroke="#000" stroke-width="1.2" />
<line x1="321.9" y1="441.96" x2="325.3" y2="441.96" stroke="#000" stroke-width="1.2" />
<line x1="329.6" y1="406.54" x2="329.6" y2="439.75" stroke="#000" stroke-width="1.2" />
<line x1="327.9" y1="406.54" x2="331.3" y2="406.54" stroke="#000" stroke-width="1.2" />
<line x1="327.9" y1="439.75" x2="331.3" y2="439.75" stroke="#000" stroke-width="1.2" />
<line x1="326.6" y1="458.2" x2="326.6" y2="461.6" stroke="#000" stroke-width="1.2" />
<text x="330.3" y="463.4" font-size="9.7" font-weight="bold" text-anchor="end" fill="#000" stroke="#000" stroke-width="0.19" transform="rotate(-90 330.3 463.4)" >ccnt2</text>
<rect x="338.65" y="439.75" width="6" height="18.45" fill="#00c000" />
<rect x="344.65" y="434.21" width="6" height="23.99" fill="#ff00ff" />
<line x1="341.65" y1="438.27" x2="341.65" y2="441.23" stroke="#000" stroke-width="1.2" />
<line x1="339.95" y1="438.27" x2="343.35" y2="438.27" stroke="#000" stroke-width="1.2" />
<line x1="339.95" y1="441.23" x2="343.35" y2="441.23" stroke="#000" stroke-width="1.2" />
<line x1="347.65" y1="430.52" x2="347.65" y2="437.9" stroke="#000" stroke-width="1.2" />
<line x1="345.95" y1="430.52" x2="349.35" y2="430.52" stroke="#000" stroke-width="1.2" />
<line x1="345.95" y1="437.9" x2="349.35" y2="437.9" stroke="#000" stroke-width="1.2" />
<line x1="344.65" y1="458.2" x2="344.65" y2="461.6" stroke="#000" stroke-width="1.2" />
<text x="348.35" y="463.4" font-size="9.7" font-weight="bold" text-anchor="end" fill="#000" stroke="#000" stroke-width="0.19" transform="rotate(-90 348.35 463.4)" >ccny</text>
<rect x="356.7" y="439.75" width="6" height="18.45" fill="#00c000" />
<rect x="362.7" y="429.23" width="6" height="28.97" fill="#ff00ff" />
<line x1="359.7" y1="438.27" x2="359.7" y2="441.23" stroke="#000" stroke-width="1.2" />
<line x1="358" y1="438.27" x2="361.4" y2="438.27" stroke="#000" stroke-width="1.2" />
<line x1="358" y1="441.23" x2="361.4" y2="441.23" stroke="#000" stroke-width="1.2" />
<line x1="365.7" y1="421.48" x2="365.7" y2="436.98" stroke="#000" stroke-width="1.2" />
<line x1="364" y1="421.48" x2="367.4" y2="421.48" stroke="#000" stroke-width="1.2" />
<line x1="364" y1="436.98" x2="367.4" y2="436.98" stroke="#000" stroke-width="1.2" />
<line x1="362.7" y1="458.2" x2="362.7" y2="461.6" stroke="#000" stroke-width="1.2" />
<text x="366.4" y="463.4" font-size="9.7" font-weight="bold" text-anchor="end" fill="#000" stroke="#000" stroke-width="0.19" transform="rotate(-90 366.4 463.4)" >cdkn1a</text>
<rect x="374.75" y="439.75" width="6" height="18.45" fill="#00c000" />
<rect x="380.75" y="424.44" width="6" height="33.76" fill="#ff00ff" />
<line x1="377.75" y1="436.98" x2="377.75" y2="442.52" stroke="#000" stroke-width="1.2" />
<line x1="376.05" y1="436.98" x2="379.45" y2="436.98" stroke="#000" stroke-width="1.2" />
<line x1="376.05" y1="442.52" x2="379.45" y2="442.52" stroke="#000" stroke-width="1.2" />
<line x1="383.75" y1="420.38" x2="383.75" y2="428.5" stroke="#000" stroke-width="1.2" />
<line x1="382.05" y1="420.38" x2="385.45" y2="420.38" stroke="#000" stroke-width="1.2" />
<line x1="382.05" y1="428.5" x2="385.45" y2="428.5" stroke="#000" stroke-width="1.2" />
<line x1="380.75" y1="458.2" x2="380.75" y2="461.6" stroke="#000" stroke-width="1.2" />
<text x="384.45" y="463.4" font-size="9.7" font-weight="bold" text-anchor="end" fill="#000" stroke="#000" stroke-width="0.19" transform="rotate(-90 384.45 463.4)" >cdkn2d</text>
<line x1="30.1" y1="421.5" x2="390" y2="421.5" stroke="#44dd44" stroke-width="1.3" stroke-dasharray="1.3,2.3"/>
<path d="M56.2 343.45L56.2 348.35M54.08 344.67L58.32 347.12M58.32 344.67L54.08 347.12" stroke="#5a5a5a" stroke-width="1.1" stroke-linecap="round" fill="none"/>
<path d="M62.3 343.45L62.3 348.35M60.18 344.67L64.42 347.12M64.42 344.67L60.18 347.12" stroke="#5a5a5a" stroke-width="1.1" stroke-linecap="round" fill="none"/>
<path d="M77.5 414.05L77.5 418.95M75.38 415.27L79.62 417.73M79.62 415.27L75.38 417.73" stroke="#5a5a5a" stroke-width="1.1" stroke-linecap="round" fill="none"/>
<path d="M92.65 372.15L92.65 377.05M90.53 373.38L94.77 375.83M94.77 373.38L90.53 375.83" stroke="#5a5a5a" stroke-width="1.1" stroke-linecap="round" fill="none"/>
<path d="M98.75 372.15L98.75 377.05M96.63 373.38L100.87 375.83M100.87 373.38L96.63 375.83" stroke="#5a5a5a" stroke-width="1.1" stroke-linecap="round" fill="none"/>
<path d="M111.25 394.45L111.25 399.35M109.13 395.67L113.37 398.12M113.37 395.67L109.13 398.12" stroke="#5a5a5a" stroke-width="1.1" stroke-linecap="round" fill="none"/>
<path d="M117.35 394.45L117.35 399.35M115.23 395.67L119.47 398.12M119.47 395.67L115.23 398.12" stroke="#5a5a5a" stroke-width="1.1" stroke-linecap="round" fill="none"/>
<path d="M182.55 406.55L182.55 411.45M180.43 407.77L184.67 410.23M184.67 407.77L180.43 410.23" stroke="#5a5a5a" stroke-width="1.1" stroke-linecap="round" fill="none"/>
<path d="M188.65 406.55L188.65 411.45M186.53 407.77L190.77 410.23M190.77 407.77L186.53 410.23" stroke="#5a5a5a" stroke-width="1.1" stroke-linecap="round" fill="none"/>
<path d="M203.5 400.55L203.5 405.45M201.38 401.77L205.62 404.23M205.62 401.77L201.38 404.23" stroke="#5a5a5a" stroke-width="1.1" stroke-linecap="round" fill="none"/>
<path d="M239.3 408.65L239.3 413.55M237.18 409.88L241.42 412.33M241.42 409.88L237.18 412.33" stroke="#5a5a5a" stroke-width="1.1" stroke-linecap="round" fill="none"/>
<path d="M293.6 400.15L293.6 405.05M291.48 401.38L295.72 403.83M295.72 401.38L291.48 403.83" stroke="#5a5a5a" stroke-width="1.1" stroke-linecap="round" fill="none"/>
<path d="M312 356.55L312 361.45M309.88 357.77L314.12 360.23M314.12 357.77L309.88 360.23" stroke="#5a5a5a" stroke-width="1.1" stroke-linecap="round" fill="none"/>
<path d="M384.2 408.75L384.2 413.65M382.08 409.97L386.32 412.43M386.32 409.97L382.08 412.43" stroke="#5a5a5a" stroke-width="1.1" stroke-linecap="round" fill="none"/>
<line x1="155.2" y1="459.4" x2="155.2" y2="494.5" stroke="#0000ff" stroke-width="1.5" stroke-dasharray="2.8,1.9"/>
<line x1="192.1" y1="459.4" x2="192.1" y2="494.5" stroke="#0000ff" stroke-width="1.5" stroke-dasharray="2.8,1.9"/>
<line x1="354.8" y1="459.4" x2="354.8" y2="494.5" stroke="#0000ff" stroke-width="1.5" stroke-dasharray="2.8,1.9"/>
<rect x="118.3" y="346.3" width="15.5" height="4.6" fill="#00c000" />
<text x="141.9" y="352.2" font-size="10" font-weight="normal" text-anchor="start" fill="#000" stroke="#000" stroke-width="0.2" textLength="18.2" lengthAdjust="spacingAndGlyphs" >Con</text>
<rect x="204" y="346.3" width="15.2" height="4.6" fill="#ff00ff" />
<text x="227.3" y="352.2" font-size="10" font-weight="normal" text-anchor="start" fill="#000" stroke="#000" stroke-width="0.2" textLength="30" lengthAdjust="spacingAndGlyphs" >0.5dpr</text>
<line x1="463" y1="372.6" x2="463" y2="389.8" stroke="#000" stroke-width="1.4" />
<line x1="463" y1="398" x2="463" y2="430.4" stroke="#000" stroke-width="1.4" />
<line x1="463" y1="439" x2="463" y2="471.8" stroke="#000" stroke-width="1.4" />
<line x1="458.6" y1="373.2" x2="463" y2="373.2" stroke="#000" stroke-width="1.3" />
<line x1="458.6" y1="384.4" x2="463" y2="384.4" stroke="#000" stroke-width="1.3" />
<line x1="458.6" y1="418.9" x2="463" y2="418.9" stroke="#000" stroke-width="1.3" />
<line x1="458.6" y1="455.4" x2="463" y2="455.4" stroke="#000" stroke-width="1.3" />
<line x1="458.6" y1="471.2" x2="463" y2="471.2" stroke="#000" stroke-width="1.3" />
<line x1="459.4" y1="389.8" x2="466" y2="389.8" stroke="#000" stroke-width="1.3" />
<line x1="459.4" y1="398.6" x2="466" y2="398.6" stroke="#000" stroke-width="1.3" />
<line x1="459.4" y1="430.4" x2="466" y2="430.4" stroke="#000" stroke-width="1.3" />
<line x1="459.4" y1="439.6" x2="466" y2="439.6" stroke="#000" stroke-width="1.3" />
<text x="456.8" y="376.5" font-size="9" font-weight="bold" text-anchor="end" fill="#000" stroke="#000" stroke-width="0.18" >2000</text>
<text x="456.8" y="387.7" font-size="9" font-weight="bold" text-anchor="end" fill="#000" stroke="#000" stroke-width="0.18" >1000</text>
<text x="456.8" y="401.9" font-size="9" font-weight="bold" text-anchor="end" fill="#000" stroke="#000" stroke-width="0.18" >200</text>
<text x="456.8" y="422.2" font-size="9" font-weight="bold" text-anchor="end" fill="#000" stroke="#000" stroke-width="0.18" >100</text>
<text x="456.8" y="442.9" font-size="9" font-weight="bold" text-anchor="end" fill="#000" stroke="#000" stroke-width="0.18" >20</text>
<text x="456.8" y="458.7" font-size="9" font-weight="bold" text-anchor="end" fill="#000" stroke="#000" stroke-width="0.18" >10</text>
<text x="456.8" y="474.5" font-size="9" font-weight="bold" text-anchor="end" fill="#000" stroke="#000" stroke-width="0.18" >0</text>
<text x="431.6" y="421.6" font-size="9" font-weight="normal" text-anchor="middle" fill="#000" stroke="#000" stroke-width="0.18" transform="rotate(-90 431.6 421.6)" textLength="108.6" lengthAdjust="spacingAndGlyphs" >Relative Light Unit (RLU)</text>
<line x1="462.3" y1="471.2" x2="756.7" y2="471.2" stroke="#000" stroke-width="1.4" />
<rect x="467.5" y="470.65" width="8.8" height="0.55" fill="#000" />
<line x1="471.9" y1="469.94" x2="471.9" y2="471.2" stroke="#000" stroke-width="1.1" />
<line x1="470.3" y1="469.94" x2="473.5" y2="469.94" stroke="#000" stroke-width="1.1" />
<line x1="470.3" y1="471.2" x2="473.5" y2="471.2" stroke="#000" stroke-width="1.1" />
<rect x="481.4" y="439.6" width="9.2" height="31.6" fill="#000" />
<rect x="481.4" y="398.6" width="9.2" height="31.8" fill="#000" />
<rect x="481.4" y="378.8" width="9.2" height="11" fill="#000" />
<rect x="481.4" y="378.8" width="8.9" height="11" fill="#000" />
<line x1="485.8" y1="375.44" x2="485.8" y2="378.8" stroke="#000" stroke-width="1.2" />
<line x1="483.55" y1="375.44" x2="488.05" y2="375.44" stroke="#000" stroke-width="1.2" />
<line x1="483.55" y1="378.8" x2="488.05" y2="378.8" stroke="#000" stroke-width="1.2" />
<rect x="481.4" y="398.6" width="8.9" height="31.8" fill="#000" />
<rect x="481.4" y="439.6" width="8.9" height="31.6" fill="#000" />
<line x1="471.9" y1="471.2" x2="471.9" y2="474.6" stroke="#000" stroke-width="1.2" />
<line x1="485.8" y1="471.2" x2="485.8" y2="474.6" stroke="#000" stroke-width="1.2" />
<rect x="499.7" y="470.25" width="9.2" height="0.95" fill="#00c000" />
<line x1="504.3" y1="469.94" x2="504.3" y2="470.55" stroke="#000" stroke-width="1.2" />
<line x1="502.2" y1="469.94" x2="506.4" y2="469.94" stroke="#000" stroke-width="1.2" />
<line x1="502.2" y1="470.55" x2="506.4" y2="470.55" stroke="#000" stroke-width="1.2" />
<line x1="504.3" y1="471.2" x2="504.3" y2="474.6" stroke="#000" stroke-width="1.2" />
<rect x="508.9" y="467.09" width="9.2" height="4.11" fill="#ff00ff" />
<line x1="513.5" y1="466.62" x2="513.5" y2="467.39" stroke="#000" stroke-width="1.2" />
<line x1="511.4" y1="466.62" x2="515.6" y2="466.62" stroke="#000" stroke-width="1.2" />
<line x1="511.4" y1="467.39" x2="515.6" y2="467.39" stroke="#000" stroke-width="1.2" />
<line x1="513.5" y1="471.2" x2="513.5" y2="474.6" stroke="#000" stroke-width="1.2" />
<rect x="518.1" y="464.88" width="9.2" height="6.32" fill="#00c000" />
<line x1="522.7" y1="463.77" x2="522.7" y2="465.18" stroke="#000" stroke-width="1.2" />
<line x1="520.6" y1="463.77" x2="524.8" y2="463.77" stroke="#000" stroke-width="1.2" />
<line x1="520.6" y1="465.18" x2="524.8" y2="465.18" stroke="#000" stroke-width="1.2" />
<line x1="522.7" y1="471.2" x2="522.7" y2="474.6" stroke="#000" stroke-width="1.2" />
<line x1="500.1" y1="480.2" x2="528.5" y2="480.2" stroke="#111" stroke-width="1.25" />
<text x="518.9" y="489.6" font-size="8.7" font-weight="bold" text-anchor="end" fill="#000" stroke="#000" stroke-width="0.17" transform="rotate(-51 518.9 489.6)" >Cdk4</text>
<rect x="536.6" y="466.78" width="9.2" height="4.42" fill="#00c000" />
<line x1="541.2" y1="466.14" x2="541.2" y2="467.08" stroke="#000" stroke-width="1.2" />
<line x1="539.1" y1="466.14" x2="543.3" y2="466.14" stroke="#000" stroke-width="1.2" />
<line x1="539.1" y1="467.08" x2="543.3" y2="467.08" stroke="#000" stroke-width="1.2" />
<line x1="541.2" y1="471.2" x2="541.2" y2="474.6" stroke="#000" stroke-width="1.2" />
<rect x="545.8" y="459.82" width="9.2" height="11.38" fill="#ff00ff" />
<line x1="550.4" y1="459.35" x2="550.4" y2="460.12" stroke="#000" stroke-width="1.2" />
<line x1="548.3" y1="459.35" x2="552.5" y2="459.35" stroke="#000" stroke-width="1.2" />
<line x1="548.3" y1="460.12" x2="552.5" y2="460.12" stroke="#000" stroke-width="1.2" />
<line x1="550.4" y1="471.2" x2="550.4" y2="474.6" stroke="#000" stroke-width="1.2" />
<rect x="555" y="458.24" width="9.2" height="12.96" fill="#0080c0" />
<line x1="559.6" y1="456.35" x2="559.6" y2="458.54" stroke="#000" stroke-width="1.2" />
<line x1="557.5" y1="456.35" x2="561.7" y2="456.35" stroke="#000" stroke-width="1.2" />
<line x1="557.5" y1="458.54" x2="561.7" y2="458.54" stroke="#000" stroke-width="1.2" />
<line x1="559.6" y1="471.2" x2="559.6" y2="474.6" stroke="#000" stroke-width="1.2" />
<line x1="537" y1="480.2" x2="565.4" y2="480.2" stroke="#111" stroke-width="1.25" />
<text x="555.8" y="489.6" font-size="8.7" font-weight="bold" text-anchor="end" fill="#000" stroke="#000" stroke-width="0.17" transform="rotate(-51 555.8 489.6)" >Cdk9</text>
<rect x="573.5" y="439.6" width="9.2" height="31.6" fill="#00c000" />
<rect x="573.5" y="404.28" width="9.2" height="26.12" fill="#00c000" />
<line x1="578.1" y1="401.24" x2="578.1" y2="404.58" stroke="#000" stroke-width="1.2" />
<line x1="576" y1="401.24" x2="580.2" y2="401.24" stroke="#000" stroke-width="1.2" />
<line x1="576" y1="404.58" x2="580.2" y2="404.58" stroke="#000" stroke-width="1.2" />
<line x1="578.1" y1="471.2" x2="578.1" y2="474.6" stroke="#000" stroke-width="1.2" />
<rect x="582.7" y="439.6" width="9.2" height="31.6" fill="#ff00ff" />
<rect x="582.7" y="398.6" width="9.2" height="31.8" fill="#ff00ff" />
<rect x="582.7" y="386" width="9.2" height="3.8" fill="#ff00ff" />
<line x1="587.3" y1="384.32" x2="587.3" y2="386.3" stroke="#000" stroke-width="1.2" />
<line x1="585.2" y1="384.32" x2="589.4" y2="384.32" stroke="#000" stroke-width="1.2" />
<line x1="585.2" y1="386.3" x2="589.4" y2="386.3" stroke="#000" stroke-width="1.2" />
<line x1="587.3" y1="471.2" x2="587.3" y2="474.6" stroke="#000" stroke-width="1.2" />
<rect x="591.9" y="439.6" width="9.2" height="31.6" fill="#0080c0" />
<rect x="591.9" y="398.6" width="9.2" height="31.8" fill="#0080c0" />
<rect x="591.9" y="387.8" width="9.2" height="2" fill="#0080c0" />
<line x1="596.5" y1="387.36" x2="596.5" y2="388.1" stroke="#000" stroke-width="1.2" />
<line x1="594.4" y1="387.36" x2="598.6" y2="387.36" stroke="#000" stroke-width="1.2" />
<line x1="594.4" y1="388.1" x2="598.6" y2="388.1" stroke="#000" stroke-width="1.2" />
<line x1="596.5" y1="471.2" x2="596.5" y2="474.6" stroke="#000" stroke-width="1.2" />
<line x1="573.9" y1="480.2" x2="602.3" y2="480.2" stroke="#111" stroke-width="1.25" />
<text x="592.7" y="489.6" font-size="8.7" font-weight="bold" text-anchor="end" fill="#000" stroke="#000" stroke-width="0.17" transform="rotate(-51 592.7 489.6)" >Cdk12</text>
<rect x="610.4" y="439.6" width="9.2" height="31.6" fill="#00c000" />
<rect x="610.4" y="429.05" width="9.2" height="1.35" fill="#00c000" />
<line x1="615" y1="428.85" x2="615" y2="429.35" stroke="#000" stroke-width="1.2" />
<line x1="612.9" y1="428.85" x2="617.1" y2="428.85" stroke="#000" stroke-width="1.2" />
<line x1="612.9" y1="429.35" x2="617.1" y2="429.35" stroke="#000" stroke-width="1.2" />
<line x1="615" y1="471.2" x2="615" y2="474.6" stroke="#000" stroke-width="1.2" />
<rect x="619.6" y="439.6" width="9.2" height="31.6" fill="#ff00ff" />
<rect x="619.6" y="401.44" width="9.2" height="28.96" fill="#ff00ff" />
<line x1="624.2" y1="399.82" x2="624.2" y2="401.74" stroke="#000" stroke-width="1.2" />
<line x1="622.1" y1="399.82" x2="626.3" y2="399.82" stroke="#000" stroke-width="1.2" />
<line x1="622.1" y1="401.74" x2="626.3" y2="401.74" stroke="#000" stroke-width="1.2" />
<line x1="624.2" y1="471.2" x2="624.2" y2="474.6" stroke="#000" stroke-width="1.2" />
<rect x="628.8" y="439.6" width="9.2" height="31.6" fill="#0080c0" />
<rect x="628.8" y="401.44" width="9.2" height="28.96" fill="#0080c0" />
<line x1="633.4" y1="400.43" x2="633.4" y2="401.74" stroke="#000" stroke-width="1.2" />
<line x1="631.3" y1="400.43" x2="635.5" y2="400.43" stroke="#000" stroke-width="1.2" />
<line x1="631.3" y1="401.74" x2="635.5" y2="401.74" stroke="#000" stroke-width="1.2" />
<line x1="633.4" y1="471.2" x2="633.4" y2="474.6" stroke="#000" stroke-width="1.2" />
<line x1="610.8" y1="480.2" x2="639.2" y2="480.2" stroke="#111" stroke-width="1.25" />
<text x="629.6" y="489.6" font-size="8.7" font-weight="bold" text-anchor="end" fill="#000" stroke="#000" stroke-width="0.17" transform="rotate(-51 629.6 489.6)" >Chek2</text>
<rect x="647.3" y="467.41" width="9.2" height="3.79" fill="#00c000" />
<line x1="651.9" y1="466.78" x2="651.9" y2="467.71" stroke="#000" stroke-width="1.2" />
<line x1="649.8" y1="466.78" x2="654" y2="466.78" stroke="#000" stroke-width="1.2" />
<line x1="649.8" y1="467.71" x2="654" y2="467.71" stroke="#000" stroke-width="1.2" />
<line x1="651.9" y1="471.2" x2="651.9" y2="474.6" stroke="#000" stroke-width="1.2" />
<rect x="656.5" y="459.98" width="9.2" height="11.22" fill="#ff00ff" />
<line x1="661.1" y1="459.03" x2="661.1" y2="460.28" stroke="#000" stroke-width="1.2" />
<line x1="659" y1="459.03" x2="663.2" y2="459.03" stroke="#000" stroke-width="1.2" />
<line x1="659" y1="460.28" x2="663.2" y2="460.28" stroke="#000" stroke-width="1.2" />
<line x1="661.1" y1="471.2" x2="661.1" y2="474.6" stroke="#000" stroke-width="1.2" />
<rect x="665.7" y="452.08" width="9.2" height="19.12" fill="#0080c0" />
<line x1="670.3" y1="448.13" x2="670.3" y2="452.38" stroke="#000" stroke-width="1.2" />
<line x1="668.2" y1="448.13" x2="672.4" y2="448.13" stroke="#000" stroke-width="1.2" />
<line x1="668.2" y1="452.38" x2="672.4" y2="452.38" stroke="#000" stroke-width="1.2" />
<line x1="670.3" y1="471.2" x2="670.3" y2="474.6" stroke="#000" stroke-width="1.2" />
<line x1="647.7" y1="480.2" x2="676.1" y2="480.2" stroke="#111" stroke-width="1.25" />
<text x="666.5" y="489.6" font-size="8.7" font-weight="bold" text-anchor="end" fill="#000" stroke="#000" stroke-width="0.17" transform="rotate(-51 666.5 489.6)" >Ccnc</text>
<rect x="684.4" y="470.57" width="9.2" height="0.63" fill="#00c000" />
<line x1="689" y1="470.09" x2="689" y2="470.87" stroke="#000" stroke-width="1.2" />
<line x1="686.9" y1="470.09" x2="691.1" y2="470.09" stroke="#000" stroke-width="1.2" />
<line x1="686.9" y1="470.87" x2="691.1" y2="470.87" stroke="#000" stroke-width="1.2" />
<line x1="689" y1="471.2" x2="689" y2="474.6" stroke="#000" stroke-width="1.2" />
<rect x="693.6" y="466.93" width="9.2" height="4.27" fill="#ff00ff" />
<line x1="698.2" y1="465.99" x2="698.2" y2="467.23" stroke="#000" stroke-width="1.2" />
<line x1="696.1" y1="465.99" x2="700.3" y2="465.99" stroke="#000" stroke-width="1.2" />
<line x1="696.1" y1="467.23" x2="700.3" y2="467.23" stroke="#000" stroke-width="1.2" />
<line x1="698.2" y1="471.2" x2="698.2" y2="474.6" stroke="#000" stroke-width="1.2" />
<rect x="702.8" y="465.99" width="9.2" height="5.21" fill="#0080c0" />
<line x1="707.4" y1="463.93" x2="707.4" y2="466.29" stroke="#000" stroke-width="1.2" />
<line x1="705.3" y1="463.93" x2="709.5" y2="463.93" stroke="#000" stroke-width="1.2" />
<line x1="705.3" y1="466.29" x2="709.5" y2="466.29" stroke="#000" stroke-width="1.2" />
<line x1="707.4" y1="471.2" x2="707.4" y2="474.6" stroke="#000" stroke-width="1.2" />
<line x1="684.8" y1="480.2" x2="713.2" y2="480.2" stroke="#111" stroke-width="1.25" />
<text x="703.6" y="489.6" font-size="8.7" font-weight="bold" text-anchor="end" fill="#000" stroke="#000" stroke-width="0.17" transform="rotate(-51 703.6 489.6)" >Ccnl2</text>
<rect x="721.3" y="439.6" width="9.2" height="31.6" fill="#00c000" />
<rect x="721.3" y="429.35" width="9.2" height="1.05" fill="#00c000" />
<line x1="725.9" y1="428.95" x2="725.9" y2="429.65" stroke="#000" stroke-width="1.2" />
<line x1="723.8" y1="428.95" x2="728" y2="428.95" stroke="#000" stroke-width="1.2" />
<line x1="723.8" y1="429.65" x2="728" y2="429.65" stroke="#000" stroke-width="1.2" />
<line x1="725.9" y1="471.2" x2="725.9" y2="474.6" stroke="#000" stroke-width="1.2" />
<rect x="730.5" y="439.6" width="9.2" height="31.6" fill="#ff00ff" />
<rect x="730.5" y="406.72" width="9.2" height="23.68" fill="#ff00ff" />
<line x1="735.1" y1="405.1" x2="735.1" y2="407.02" stroke="#000" stroke-width="1.2" />
<line x1="733" y1="405.1" x2="737.2" y2="405.1" stroke="#000" stroke-width="1.2" />
<line x1="733" y1="407.02" x2="737.2" y2="407.02" stroke="#000" stroke-width="1.2" />
<line x1="735.1" y1="471.2" x2="735.1" y2="474.6" stroke="#000" stroke-width="1.2" />
<rect x="739.7" y="439.6" width="9.2" height="31.6" fill="#0080c0" />
<rect x="739.7" y="421.34" width="9.2" height="9.06" fill="#0080c0" />
<line x1="744.3" y1="420.73" x2="744.3" y2="421.64" stroke="#000" stroke-width="1.2" />
<line x1="742.2" y1="420.73" x2="746.4" y2="420.73" stroke="#000" stroke-width="1.2" />
<line x1="742.2" y1="421.64" x2="746.4" y2="421.64" stroke="#000" stroke-width="1.2" />
<line x1="744.3" y1="471.2" x2="744.3" y2="474.6" stroke="#000" stroke-width="1.2" />
<line x1="721.7" y1="480.2" x2="750.1" y2="480.2" stroke="#111" stroke-width="1.25" />
<text x="740.5" y="489.6" font-size="8.7" font-weight="bold" text-anchor="end" fill="#000" stroke="#000" stroke-width="0.17" transform="rotate(-51 740.5 489.6)" >Ccnt1</text>
<polyline points="500.6,449.2 500.6,446 513.6,446 513.6,449.2" fill="none" stroke="#000" stroke-width="1.1" />
<polyline points="537.1,445.4 537.1,442.2 550.5,442.2 550.5,445.4" fill="none" stroke="#000" stroke-width="1.1" />
<polyline points="574,380.6 574,377.4 586.8,377.4 586.8,380.6" fill="none" stroke="#000" stroke-width="1.1" />
<polyline points="611,395.8 611,392.6 624.7,392.6 624.7,395.8" fill="none" stroke="#000" stroke-width="1.1" />
<polyline points="647.6,445.6 647.6,442.4 660.6,442.4 660.6,445.6" fill="none" stroke="#000" stroke-width="1.1" />
<polyline points="685.3,459.7 685.3,456.5 698.6,456.5 698.6,459.7" fill="none" stroke="#000" stroke-width="1.1" />
<polyline points="719.7,400.5 719.7,397.3 732.7,397.3 732.7,400.5" fill="none" stroke="#000" stroke-width="1.1" />
<polyline points="736.1,400.5 736.1,397.3 749.6,397.3 749.6,400.5" fill="none" stroke="#000" stroke-width="1.1" />
<path d="M507.35 453.1L502.65 453.1M506.18 451.06L503.82 455.14M506.18 455.14L503.82 451.06" stroke="#5a5a5a" stroke-width="1.1" stroke-linecap="round" fill="none"/>
<path d="M507.35 458.85L502.65 458.85M506.18 456.81L503.82 460.89M506.18 460.89L503.82 456.81" stroke="#5a5a5a" stroke-width="1.1" stroke-linecap="round" fill="none"/>
<path d="M507.35 464.6L502.65 464.6M506.18 462.56L503.82 466.64M506.18 466.64L503.82 462.56" stroke="#5a5a5a" stroke-width="1.1" stroke-linecap="round" fill="none"/>
<path d="M543.95 449.5L539.25 449.5M542.77 447.46L540.43 451.54M542.77 451.54L540.43 447.46" stroke="#5a5a5a" stroke-width="1.1" stroke-linecap="round" fill="none"/>
<path d="M543.95 454.95L539.25 454.95M542.77 452.91L540.43 456.99M542.77 456.99L540.43 452.91" stroke="#5a5a5a" stroke-width="1.1" stroke-linecap="round" fill="none"/>
<path d="M543.95 460.4L539.25 460.4M542.77 458.36L540.43 462.44M542.77 462.44L540.43 458.36" stroke="#5a5a5a" stroke-width="1.1" stroke-linecap="round" fill="none"/>
<path d="M580.25 384L575.55 384M579.07 381.96L576.73 386.04M579.07 386.04L576.73 381.96" stroke="#5a5a5a" stroke-width="1.1" stroke-linecap="round" fill="none"/>
<path d="M580.25 389.95L575.55 389.95M579.07 387.91L576.73 391.99M579.07 391.99L576.73 387.91" stroke="#5a5a5a" stroke-width="1.1" stroke-linecap="round" fill="none"/>
<path d="M580.25 395.9L575.55 395.9M579.07 393.86L576.73 397.94M579.07 397.94L576.73 393.86" stroke="#5a5a5a" stroke-width="1.1" stroke-linecap="round" fill="none"/>
<path d="M617.05 411.8L612.35 411.8M615.88 409.76L613.53 413.84M615.88 413.84L613.53 409.76" stroke="#5a5a5a" stroke-width="1.1" stroke-linecap="round" fill="none"/>
<path d="M617.05 417.3L612.35 417.3M615.88 415.26L613.53 419.34M615.88 419.34L613.53 415.26" stroke="#5a5a5a" stroke-width="1.1" stroke-linecap="round" fill="none"/>
<path d="M617.05 422.8L612.35 422.8M615.88 420.76L613.53 424.84M615.88 424.84L613.53 420.76" stroke="#5a5a5a" stroke-width="1.1" stroke-linecap="round" fill="none"/>
<path d="M652.95 450.8L648.25 450.8M651.77 448.76L649.43 452.84M651.77 452.84L649.43 448.76" stroke="#5a5a5a" stroke-width="1.1" stroke-linecap="round" fill="none"/>
<path d="M652.95 455.9L648.25 455.9M651.77 453.86L649.43 457.94M651.77 457.94L649.43 453.86" stroke="#5a5a5a" stroke-width="1.1" stroke-linecap="round" fill="none"/>
<path d="M652.95 461L648.25 461M651.77 458.96L649.43 463.04M651.77 463.04L649.43 458.96" stroke="#5a5a5a" stroke-width="1.1" stroke-linecap="round" fill="none"/>
<path d="M727.95 412.2L723.25 412.2M726.77 410.16L724.43 414.24M726.77 414.24L724.43 410.16" stroke="#5a5a5a" stroke-width="1.1" stroke-linecap="round" fill="none"/>
<path d="M727.95 417.4L723.25 417.4M726.77 415.36L724.43 419.44M726.77 419.44L724.43 415.36" stroke="#5a5a5a" stroke-width="1.1" stroke-linecap="round" fill="none"/>
<path d="M727.95 422.6L723.25 422.6M726.77 420.56L724.43 424.64M726.77 424.64L724.43 420.56" stroke="#5a5a5a" stroke-width="1.1" stroke-linecap="round" fill="none"/>
<path d="M745.45 404.6L740.75 404.6M744.27 402.56L741.93 406.64M744.27 406.64L741.93 402.56" stroke="#5a5a5a" stroke-width="1.1" stroke-linecap="round" fill="none"/>
<path d="M745.45 410.3L740.75 410.3M744.27 408.26L741.93 412.34M744.27 412.34L741.93 408.26" stroke="#5a5a5a" stroke-width="1.1" stroke-linecap="round" fill="none"/>
<path d="M745.45 416L740.75 416M744.27 413.96L741.93 418.04M744.27 418.04L741.93 413.96" stroke="#5a5a5a" stroke-width="1.1" stroke-linecap="round" fill="none"/>
<path d="M690.95 464.4L686.25 464.4M689.77 462.36L687.43 466.44M689.77 466.44L687.43 462.36" stroke="#5a5a5a" stroke-width="1.1" stroke-linecap="round" fill="none"/>
<rect x="482.2" y="344.5" width="12.5" height="3.9" fill="#00c000" />
<text x="502.3" y="349.7" font-size="9.2" font-weight="normal" text-anchor="start" fill="#000" stroke="#000" stroke-width="0.18" textLength="71" lengthAdjust="spacingAndGlyphs" >Luc+pcDNA+pTK</text>
<rect x="589.7" y="344.5" width="12.5" height="3.9" fill="#ff00ff" />
<text x="609.8" y="349.7" font-size="9.2" font-weight="normal" text-anchor="start" fill="#000" stroke="#000" stroke-width="0.18" textLength="101.8" lengthAdjust="spacingAndGlyphs" >Luc+pcDNA-xFosl1+pTK</text>
<rect x="482.2" y="355.1" width="12.5" height="3.9" fill="#0080c0" />
<text x="502.3" y="360.3" font-size="9.2" font-weight="normal" text-anchor="start" fill="#000" stroke="#000" stroke-width="0.18" textLength="139.4" lengthAdjust="spacingAndGlyphs" >mutation-Luc+pcDNA-xFosl1+pTK</text>
<text x="474.4" y="481.8" font-size="8.6" font-weight="bold" text-anchor="end" fill="#000" stroke="#000" stroke-width="0.17" transform="rotate(-55.8 474.4 481.8)" textLength="69.5" lengthAdjust="spacingAndGlyphs" >pMCS-GLuc+pTK</text>
<text x="488.6" y="481.8" font-size="8.6" font-weight="bold" text-anchor="end" fill="#000" stroke="#000" stroke-width="0.17" transform="rotate(-55.8 488.6 481.8)" textLength="69.5" lengthAdjust="spacingAndGlyphs" >pCMV-GLuc+pTK</text>
<defs><linearGradient id="gelbg" x1="0" x2="1"><stop offset="0" stop-color="#e4e4e4"/><stop offset="0.2" stop-color="#dcdcdc"/><stop offset="0.45" stop-color="#d6d6d6"/><stop offset="0.6" stop-color="#cfcfcf"/><stop offset="0.75" stop-color="#d8d8d8"/><stop offset="1" stop-color="#d2d2d2"/></linearGradient></defs>
<rect x="261.6" y="546" width="111.4" height="26.8" fill="url(#gelbg)" />
<rect x="317" y="546.5" width="19.5" height="16.5" fill="#b4b4b4" filter="url(#bl2)" opacity="0.75"/>
<rect x="288" y="549" width="18" height="10" fill="#c8c8c8" filter="url(#bl2)" opacity="0.6"/>
<rect x="266.4" y="550.9" width="12.7" height="2" rx="0.8" ry="1" fill="#8a8a8a" filter="url(#bl)" opacity="1"/>
<rect x="266.4" y="562.2" width="12.7" height="2" rx="0.8" ry="1" fill="#8a8a8a" filter="url(#bl)" opacity="1"/>
<rect x="286.5" y="558.4" width="20" height="4.8" rx="1.92" ry="2.4" fill="#333" filter="url(#bl)" opacity="1"/>
<rect x="345.6" y="557.8" width="21.1" height="5.8" rx="2.32" ry="2.9" fill="#000" filter="url(#bl)" opacity="1"/>
<text x="253.8" y="563.6" font-size="10.5" font-weight="bold" text-anchor="end" fill="#000" stroke="#000" stroke-width="0.21" textLength="26.4" lengthAdjust="spacingAndGlyphs" font-style="italic">ccnt1</text>
<text x="268.2" y="542.4" font-size="9" font-weight="bold" text-anchor="start" fill="#000" stroke="#000" stroke-width="0.18" transform="rotate(-45 268.2 542.4)" textLength="31.5" lengthAdjust="spacingAndGlyphs" >Marker</text>
<text x="295.8" y="542.7" font-size="9" font-weight="bold" text-anchor="start" fill="#000" stroke="#000" stroke-width="0.18" transform="rotate(-45 295.8 542.7)" textLength="25.5" lengthAdjust="spacingAndGlyphs" >Input</text>
<text x="328.8" y="541.4" font-size="9" font-weight="bold" text-anchor="start" fill="#000" stroke="#000" stroke-width="0.18" transform="rotate(-45 328.8 541.4)" textLength="17" lengthAdjust="spacingAndGlyphs" >IgG</text>
<text x="359.4" y="540.4" font-size="9" font-weight="bold" text-anchor="start" fill="#000" stroke="#000" stroke-width="0.18" transform="rotate(-45 359.4 540.4)" textLength="22.5" lengthAdjust="spacingAndGlyphs" >Flag</text>
<line x1="281.6" y1="582.4" x2="281.6" y2="674.6" stroke="#000" stroke-width="1.5" />
<line x1="277.8" y1="674" x2="281.6" y2="674" stroke="#000" stroke-width="1.4" />
<text x="277.2" y="678" font-size="11" font-weight="bold" text-anchor="end" fill="#000" stroke="#000" stroke-width="0.22" >0</text>
<line x1="277.8" y1="655.8" x2="281.6" y2="655.8" stroke="#000" stroke-width="1.4" />
<text x="277.2" y="659.8" font-size="11" font-weight="bold" text-anchor="end" fill="#000" stroke="#000" stroke-width="0.22" >1</text>
<line x1="277.8" y1="637.6" x2="281.6" y2="637.6" stroke="#000" stroke-width="1.4" />
<text x="277.2" y="641.6" font-size="11" font-weight="bold" text-anchor="end" fill="#000" stroke="#000" stroke-width="0.22" >2</text>
<line x1="277.8" y1="619.4" x2="281.6" y2="619.4" stroke="#000" stroke-width="1.4" />
<text x="277.2" y="623.4" font-size="11" font-weight="bold" text-anchor="end" fill="#000" stroke="#000" stroke-width="0.22" >3</text>
<line x1="277.8" y1="601.2" x2="281.6" y2="601.2" stroke="#000" stroke-width="1.4" />
<text x="277.2" y="605.2" font-size="11" font-weight="bold" text-anchor="end" fill="#000" stroke="#000" stroke-width="0.22" >4</text>
<line x1="277.8" y1="583" x2="281.6" y2="583" stroke="#000" stroke-width="1.4" />
<text x="277.2" y="587" font-size="11" font-weight="bold" text-anchor="end" fill="#000" stroke="#000" stroke-width="0.22" >5</text>
<line x1="280.9" y1="674" x2="373.4" y2="674" stroke="#000" stroke-width="1.5" />
<rect x="287.9" y="656.16" width="18.4" height="17.84" fill="#fff" stroke="#000" stroke-width="1.4"/>
<rect x="317.8" y="669.09" width="19" height="4.91" fill="#fff" stroke="#000" stroke-width="1.4"/>
<rect x="348.2" y="610.3" width="19" height="63.7" fill="#fff" stroke="#000" stroke-width="1.4"/>
<line x1="297.1" y1="674" x2="297.1" y2="677.6" stroke="#000" stroke-width="1.3" />
<line x1="327.3" y1="674" x2="327.3" y2="677.6" stroke="#000" stroke-width="1.3" />
<line x1="357.7" y1="674" x2="357.7" y2="677.6" stroke="#000" stroke-width="1.3" />
<line x1="297.3" y1="652.7" x2="297.3" y2="658.7" stroke="#000" stroke-width="1.4" />
<line x1="293.15" y1="652.7" x2="301.45" y2="652.7" stroke="#000" stroke-width="1.4" />
<line x1="293.15" y1="658.7" x2="301.45" y2="658.7" stroke="#000" stroke-width="1.4" />
<line x1="327.2" y1="665.7" x2="327.2" y2="671.6" stroke="#000" stroke-width="1.4" />
<line x1="323.05" y1="665.7" x2="331.35" y2="665.7" stroke="#000" stroke-width="1.4" />
<line x1="323.05" y1="671.6" x2="331.35" y2="671.6" stroke="#000" stroke-width="1.4" />
<line x1="357.7" y1="605.1" x2="357.7" y2="614.3" stroke="#000" stroke-width="1.4" />
<line x1="352.65" y1="605.1" x2="362.75" y2="605.1" stroke="#000" stroke-width="1.4" />
<line x1="352.65" y1="614.3" x2="362.75" y2="614.3" stroke="#000" stroke-width="1.4" />
<circle cx="297.3" cy="650.3" r="1.9" fill="#10c010"/>
<circle cx="292.6" cy="658.3" r="1.9" fill="#10c010"/>
<circle cx="302.4" cy="658.7" r="1.9" fill="#10c010"/>
<circle cx="327.2" cy="662.9" r="1.9" fill="#10c010"/>
<circle cx="322.6" cy="670.7" r="1.9" fill="#10c010"/>
<circle cx="332.4" cy="671.6" r="1.9" fill="#10c010"/>
<circle cx="357.7" cy="602.9" r="1.9" fill="#10c010"/>
<circle cx="357.7" cy="609.7" r="1.9" fill="#10c010"/>
<circle cx="357.7" cy="617.7" r="1.9" fill="#10c010"/>
<polyline points="297.6,640.5 297.6,636.5 327.2,636.5 327.2,640.5" fill="none" stroke="#000" stroke-width="1.3" />
<polyline points="327.2,597.5 327.2,592.5 357.7,592.5 357.7,597.5" fill="none" stroke="#000" stroke-width="1.3" />
<path d="M313 627.4L313 632.6M310.75 628.7L315.25 631.3M315.25 628.7L310.75 631.3" stroke="#5a5a5a" stroke-width="1.1" stroke-linecap="round" fill="none"/>
<path d="M338.25 582.9L338.25 588.1M336 584.2L340.5 586.8M340.5 584.2L336 586.8" stroke="#5a5a5a" stroke-width="1.1" stroke-linecap="round" fill="none"/>
<path d="M343.8 582.9L343.8 588.1M341.55 584.2L346.05 586.8M346.05 584.2L341.55 586.8" stroke="#5a5a5a" stroke-width="1.1" stroke-linecap="round" fill="none"/>
<path d="M349.35 582.9L349.35 588.1M347.1 584.2L351.6 586.8M351.6 584.2L347.1 586.8" stroke="#5a5a5a" stroke-width="1.1" stroke-linecap="round" fill="none"/>
<text x="264.2" y="628" font-size="10.6" font-weight="bold" text-anchor="middle" fill="#000" stroke="#000" stroke-width="0.21" transform="rotate(-90 264.2 628)" textLength="71.6" lengthAdjust="spacingAndGlyphs" >Relative signal</text>
<text x="297.3" y="688.4" font-size="11" font-weight="bold" text-anchor="middle" fill="#000" stroke="#000" stroke-width="0.22" textLength="24" lengthAdjust="spacingAndGlyphs" >Input</text>
<text x="327.3" y="688.4" font-size="11" font-weight="bold" text-anchor="middle" fill="#000" stroke="#000" stroke-width="0.22" textLength="15.7" lengthAdjust="spacingAndGlyphs" >IgG</text>
<text x="357.7" y="688.4" font-size="11" font-weight="bold" text-anchor="middle" fill="#000" stroke="#000" stroke-width="0.22" textLength="19.4" lengthAdjust="spacingAndGlyphs" >Flag</text>
<line x1="441.3" y1="583.5" x2="441.3" y2="674.3" stroke="#333" stroke-width="1.5" />
<line x1="438.6" y1="673.7" x2="441.3" y2="673.7" stroke="#333" stroke-width="1.3" />
<text x="437.2" y="676.8" font-size="8.8" font-weight="bold" text-anchor="end" fill="#000" stroke="#000" stroke-width="0.18" >0</text>
<line x1="438.6" y1="651.3" x2="441.3" y2="651.3" stroke="#333" stroke-width="1.3" />
<text x="437.2" y="654.4" font-size="8.8" font-weight="bold" text-anchor="end" fill="#000" stroke="#000" stroke-width="0.18" >5</text>
<line x1="438.6" y1="628.9" x2="441.3" y2="628.9" stroke="#333" stroke-width="1.3" />
<text x="437.2" y="632" font-size="8.8" font-weight="bold" text-anchor="end" fill="#000" stroke="#000" stroke-width="0.18" >10</text>
<line x1="438.6" y1="606.5" x2="441.3" y2="606.5" stroke="#333" stroke-width="1.3" />
<text x="437.2" y="609.6" font-size="8.8" font-weight="bold" text-anchor="end" fill="#000" stroke="#000" stroke-width="0.18" >15</text>
<line x1="438.6" y1="584.1" x2="441.3" y2="584.1" stroke="#333" stroke-width="1.3" />
<text x="437.2" y="587.2" font-size="8.8" font-weight="bold" text-anchor="end" fill="#000" stroke="#000" stroke-width="0.18" >20</text>
<line x1="440.6" y1="673.7" x2="531" y2="673.7" stroke="#333" stroke-width="1.5" />
<rect x="450.3" y="669.89" width="10" height="3.81" fill="#fff" stroke="#000" stroke-width="1.3"/>
<circle cx="452.1" cy="667.88" r="1.9" fill="#10c010"/>
<circle cx="455.3" cy="669.67" r="1.9" fill="#10c010"/>
<circle cx="458.8" cy="671.91" r="1.9" fill="#10c010"/>
<rect x="466.4" y="661.6" width="10.9" height="12.1" fill="#fff" stroke="#000" stroke-width="1.3"/>
<line x1="471.85" y1="659.36" x2="471.85" y2="663.84" stroke="#000" stroke-width="1.3" />
<line x1="468.85" y1="659.36" x2="474.85" y2="659.36" stroke="#000" stroke-width="1.3" />
<line x1="468.85" y1="663.84" x2="474.85" y2="663.84" stroke="#000" stroke-width="1.3" />
<circle cx="468.65" cy="655.78" r="1.9" fill="#ff1010"/>
<circle cx="474.15" cy="658.92" r="1.9" fill="#ff1010"/>
<circle cx="469.85" cy="662.5" r="1.9" fill="#ff1010"/>
<circle cx="474.15" cy="666.08" r="1.9" fill="#ff1010"/>
<rect x="494.6" y="669.89" width="10.4" height="3.81" fill="#fff" stroke="#000" stroke-width="1.3"/>
<circle cx="497.3" cy="668.55" r="1.9" fill="#10c010"/>
<circle cx="500.3" cy="669.44" r="1.9" fill="#10c010"/>
<circle cx="503.3" cy="670.34" r="1.9" fill="#10c010"/>
<rect x="511.2" y="628.23" width="10.5" height="45.47" fill="#fff" stroke="#000" stroke-width="1.3"/>
<line x1="516.45" y1="622.18" x2="516.45" y2="634.28" stroke="#000" stroke-width="1.3" />
<line x1="513.56" y1="622.18" x2="519.34" y2="622.18" stroke="#000" stroke-width="1.3" />
<line x1="513.56" y1="634.28" x2="519.34" y2="634.28" stroke="#000" stroke-width="1.3" />
<circle cx="516.65" cy="613.22" r="1.9" fill="#ff1010"/>
<circle cx="513.45" cy="626.66" r="1.9" fill="#ff1010"/>
<circle cx="519.45" cy="628.45" r="1.9" fill="#ff1010"/>
<circle cx="516.65" cy="641.89" r="1.9" fill="#ff1010"/>
<line x1="463.5" y1="673.7" x2="463.5" y2="677" stroke="#000" stroke-width="1.3" />
<line x1="508" y1="673.7" x2="508" y2="677" stroke="#000" stroke-width="1.3" />
<polyline points="472.9,601.7 472.9,597.3 516.7,597.3 516.7,601.7" fill="none" stroke="#000" stroke-width="1.3" />
<text x="495.9" y="595.4" font-size="8" font-weight="normal" text-anchor="middle" fill="#777" stroke="#777" stroke-width="0.16" textLength="13" lengthAdjust="spacingAndGlyphs" >###</text>
<path d="M471.4 645.2L471.4 649.2M469.67 646.2L473.13 648.2M473.13 646.2L469.67 648.2" stroke="#5a5a5a" stroke-width="1.1" stroke-linecap="round" fill="none"/>
<path d="M512 604.7L512 608.7M510.27 605.7L513.73 607.7M513.73 605.7L510.27 607.7" stroke="#5a5a5a" stroke-width="1.1" stroke-linecap="round" fill="none"/>
<path d="M517.1 604.7L517.1 608.7M515.37 605.7L518.83 607.7M518.83 605.7L515.37 607.7" stroke="#5a5a5a" stroke-width="1.1" stroke-linecap="round" fill="none"/>
<path d="M522.2 604.7L522.2 608.7M520.47 605.7L523.93 607.7M523.93 605.7L520.47 607.7" stroke="#5a5a5a" stroke-width="1.1" stroke-linecap="round" fill="none"/>
<text x="463.7" y="687.6" font-size="10" font-weight="bold" text-anchor="middle" fill="#000" stroke="#000" stroke-width="0.2" textLength="22.9" lengthAdjust="spacingAndGlyphs" >Sham</text>
<text x="508.3" y="687.6" font-size="10" font-weight="bold" text-anchor="middle" fill="#000" stroke="#000" stroke-width="0.2" textLength="17" lengthAdjust="spacingAndGlyphs" >1dpr</text>
<text x="412.3" y="629.1" font-size="9.2" font-weight="bold" text-anchor="middle" fill="#000" stroke="#000" stroke-width="0.18" transform="rotate(-90 412.3 629.1)" textLength="64.5" lengthAdjust="spacingAndGlyphs" >Fold enrichment</text>
<text x="421.8" y="629.6" font-size="9.2" font-weight="bold" text-anchor="middle" fill="#000" stroke="#000" stroke-width="0.18" transform="rotate(-90 421.8 629.6)" textLength="43.7" lengthAdjust="spacingAndGlyphs" >(Fosl1/IgG)</text>
<circle cx="451.7" cy="574.3" r="1.9" fill="#10c010"/>
<text x="464.2" y="576.6" font-size="6.4" font-weight="bold" text-anchor="start" fill="#000" stroke="#000" stroke-width="0.13" textLength="9.8" lengthAdjust="spacingAndGlyphs" >IgG</text>
<circle cx="494.8" cy="574.3" r="1.9" fill="#ff1010"/>
<text x="507.9" y="576.6" font-size="6.4" font-weight="bold" text-anchor="start" fill="#000" stroke="#000" stroke-width="0.13" textLength="16.4" lengthAdjust="spacingAndGlyphs" >Fosl1</text>
<line x1="597.8" y1="583.7" x2="597.8" y2="674.2" stroke="#333" stroke-width="1.5" />
<line x1="595.1" y1="673.6" x2="597.8" y2="673.6" stroke="#333" stroke-width="1.3" />
<text x="594.5" y="676.7" font-size="8.8" font-weight="bold" text-anchor="end" fill="#000" stroke="#000" stroke-width="0.18" >0</text>
<line x1="595.1" y1="651.27" x2="597.8" y2="651.27" stroke="#333" stroke-width="1.3" />
<text x="594.5" y="654.38" font-size="8.8" font-weight="bold" text-anchor="end" fill="#000" stroke="#000" stroke-width="0.18" >5</text>
<line x1="595.1" y1="628.95" x2="597.8" y2="628.95" stroke="#333" stroke-width="1.3" />
<text x="594.5" y="632.05" font-size="8.8" font-weight="bold" text-anchor="end" fill="#000" stroke="#000" stroke-width="0.18" >10</text>
<line x1="595.1" y1="606.62" x2="597.8" y2="606.62" stroke="#333" stroke-width="1.3" />
<text x="594.5" y="609.73" font-size="8.8" font-weight="bold" text-anchor="end" fill="#000" stroke="#000" stroke-width="0.18" >15</text>
<line x1="595.1" y1="584.3" x2="597.8" y2="584.3" stroke="#333" stroke-width="1.3" />
<text x="594.5" y="587.4" font-size="8.8" font-weight="bold" text-anchor="end" fill="#000" stroke="#000" stroke-width="0.18" >20</text>
<line x1="597.1" y1="673.6" x2="645.2" y2="673.6" stroke="#333" stroke-width="1.5" />
<rect x="605.9" y="668.91" width="9.8" height="4.69" fill="#fff" stroke="#000" stroke-width="1.3"/>
<line x1="610.8" y1="667.57" x2="610.8" y2="670.25" stroke="#000" stroke-width="1.3" />
<line x1="608.1" y1="667.57" x2="613.5" y2="667.57" stroke="#000" stroke-width="1.3" />
<line x1="608.1" y1="670.25" x2="613.5" y2="670.25" stroke="#000" stroke-width="1.3" />
<circle cx="610.2" cy="665.56" r="1.9" fill="#10c010"/>
<circle cx="606.8" cy="669.8" r="1.9" fill="#10c010"/>
<circle cx="613.4" cy="670.7" r="1.9" fill="#10c010"/>
<rect x="628.3" y="635.2" width="12" height="38.4" fill="#fff" stroke="#000" stroke-width="1.3"/>
<line x1="634.3" y1="625.82" x2="634.3" y2="644.58" stroke="#000" stroke-width="1.3" />
<line x1="631" y1="625.82" x2="637.6" y2="625.82" stroke="#000" stroke-width="1.3" />
<line x1="631" y1="644.58" x2="637.6" y2="644.58" stroke="#000" stroke-width="1.3" />
<circle cx="634.7" cy="610.64" r="1.9" fill="#ff1010"/>
<circle cx="631" cy="637.43" r="1.9" fill="#ff1010"/>
<circle cx="638" cy="639.67" r="1.9" fill="#ff1010"/>
<circle cx="634.7" cy="650.83" r="1.9" fill="#ff1010"/>
<line x1="610.8" y1="673.6" x2="610.8" y2="677" stroke="#000" stroke-width="1.3" />
<line x1="634.3" y1="673.6" x2="634.3" y2="677" stroke="#000" stroke-width="1.3" />
<polyline points="610.7,605.9 610.7,602.9 635.3,602.9 635.3,605.9" fill="none" stroke="#000" stroke-width="1.3" />
<path d="M621.5 593.4L621.5 597.6M619.68 594.45L623.32 596.55M623.32 594.45L619.68 596.55" stroke="#5a5a5a" stroke-width="1.1" stroke-linecap="round" fill="none"/>
<path d="M626.9 593.4L626.9 597.6M625.08 594.45L628.72 596.55M628.72 594.45L625.08 596.55" stroke="#5a5a5a" stroke-width="1.1" stroke-linecap="round" fill="none"/>
<text x="610.2" y="687.8" font-size="10" font-weight="bold" text-anchor="middle" fill="#000" stroke="#000" stroke-width="0.2" textLength="21.8" lengthAdjust="spacingAndGlyphs" >sham</text>
<text x="634.8" y="687.8" font-size="10" font-weight="bold" text-anchor="middle" fill="#000" stroke="#000" stroke-width="0.2" textLength="18.6" lengthAdjust="spacingAndGlyphs" >1dpr</text>
<text x="577.9" y="629" font-size="9.3" font-weight="bold" text-anchor="middle" fill="#000" stroke="#000" stroke-width="0.19" transform="rotate(-90 577.9 629)" textLength="85.3" lengthAdjust="spacingAndGlyphs" >mFosl1 fold change</text>
<line x1="701.2" y1="583.7" x2="701.2" y2="674.2" stroke="#333" stroke-width="1.5" />
<line x1="698.5" y1="673.6" x2="701.2" y2="673.6" stroke="#333" stroke-width="1.3" />
<text x="696.9" y="676.7" font-size="8.8" font-weight="bold" text-anchor="end" fill="#000" stroke="#000" stroke-width="0.18" >0</text>
<line x1="698.5" y1="655.74" x2="701.2" y2="655.74" stroke="#333" stroke-width="1.3" />
<text x="696.9" y="658.84" font-size="8.8" font-weight="bold" text-anchor="end" fill="#000" stroke="#000" stroke-width="0.18" >2</text>
<line x1="698.5" y1="637.88" x2="701.2" y2="637.88" stroke="#333" stroke-width="1.3" />
<text x="696.9" y="640.98" font-size="8.8" font-weight="bold" text-anchor="end" fill="#000" stroke="#000" stroke-width="0.18" >4</text>
<line x1="698.5" y1="620.02" x2="701.2" y2="620.02" stroke="#333" stroke-width="1.3" />
<text x="696.9" y="623.12" font-size="8.8" font-weight="bold" text-anchor="end" fill="#000" stroke="#000" stroke-width="0.18" >6</text>
<line x1="698.5" y1="602.16" x2="701.2" y2="602.16" stroke="#333" stroke-width="1.3" />
<text x="696.9" y="605.26" font-size="8.8" font-weight="bold" text-anchor="end" fill="#000" stroke="#000" stroke-width="0.18" >8</text>
<line x1="698.5" y1="584.3" x2="701.2" y2="584.3" stroke="#333" stroke-width="1.3" />
<text x="696.9" y="587.4" font-size="8.8" font-weight="bold" text-anchor="end" fill="#000" stroke="#000" stroke-width="0.18" >10</text>
<line x1="700.5" y1="673.6" x2="750.8" y2="673.6" stroke="#333" stroke-width="1.5" />
<rect x="707.1" y="665.03" width="12" height="8.57" fill="#fff" stroke="#000" stroke-width="1.3"/>
<line x1="713.1" y1="664.13" x2="713.1" y2="665.92" stroke="#000" stroke-width="1.3" />
<line x1="709.8" y1="664.13" x2="716.4" y2="664.13" stroke="#000" stroke-width="1.3" />
<line x1="709.8" y1="665.92" x2="716.4" y2="665.92" stroke="#000" stroke-width="1.3" />
<circle cx="709.6" cy="661.72" r="1.9" fill="#10c010"/>
<circle cx="713.1" cy="664.22" r="1.9" fill="#10c010"/>
<circle cx="716.5" cy="666.28" r="1.9" fill="#10c010"/>
<rect x="731.8" y="629.84" width="11.4" height="43.76" fill="#fff" stroke="#000" stroke-width="1.3"/>
<line x1="737.5" y1="619.13" x2="737.5" y2="640.56" stroke="#000" stroke-width="1.3" />
<line x1="734.37" y1="619.13" x2="740.63" y2="619.13" stroke="#000" stroke-width="1.3" />
<line x1="734.37" y1="640.56" x2="740.63" y2="640.56" stroke="#000" stroke-width="1.3" />
<circle cx="737.7" cy="604.84" r="1.9" fill="#ff1010"/>
<circle cx="737.7" cy="622.25" r="1.9" fill="#ff1010"/>
<circle cx="737.7" cy="642.35" r="1.9" fill="#ff1010"/>
<circle cx="737.7" cy="649.04" r="1.9" fill="#ff1010"/>
<line x1="713.1" y1="673.6" x2="713.1" y2="677" stroke="#000" stroke-width="1.3" />
<line x1="737.5" y1="673.6" x2="737.5" y2="677" stroke="#000" stroke-width="1.3" />
<polyline points="713.7,598.5 713.7,594.6 738.3,594.6 738.3,598.5" fill="none" stroke="#000" stroke-width="1.3" />
<path d="M725.7 585.6L725.7 589.6M723.97 586.6L727.43 588.6M727.43 586.6L723.97 588.6" stroke="#5a5a5a" stroke-width="1.1" stroke-linecap="round" fill="none"/>
<text x="713.1" y="687.8" font-size="10" font-weight="bold" text-anchor="middle" fill="#000" stroke="#000" stroke-width="0.2" textLength="20.7" lengthAdjust="spacingAndGlyphs" >sham</text>
<text x="737.7" y="687.8" font-size="10" font-weight="bold" text-anchor="middle" fill="#000" stroke="#000" stroke-width="0.2" textLength="19.6" lengthAdjust="spacingAndGlyphs" >1dpr</text>
<text x="681.9" y="626.7" font-size="9.3" font-weight="bold" text-anchor="middle" fill="#000" stroke="#000" stroke-width="0.19" transform="rotate(-90 681.9 626.7)" textLength="81.8" lengthAdjust="spacingAndGlyphs" >mJunB fold change</text>
</g>
</svg></div>
</body></html>
